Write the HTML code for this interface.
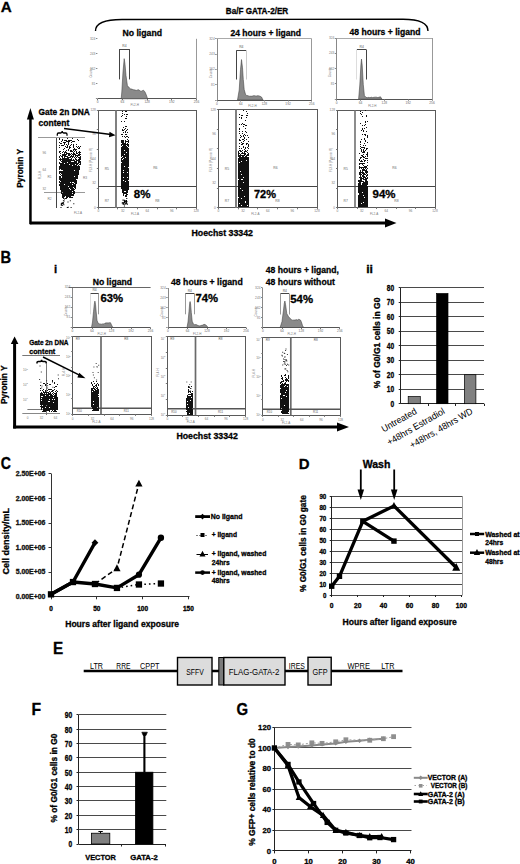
<!DOCTYPE html>
<html><head><meta charset="utf-8"><title>Figure</title>
<style>
html,body{margin:0;padding:0;background:#fff;}
body{width:520px;height:864px;overflow:hidden;}
svg{display:block;font-family:"Liberation Sans",sans-serif;}
</style></head>
<body>
<svg width="520" height="864" viewBox="0 0 520 864">
<rect width="520" height="864" fill="#fff"/>
<text x="0.8" y="11.6" font-size="15" font-weight="bold" fill="#000" stroke="#000" stroke-width="0.3" textLength="11" lengthAdjust="spacingAndGlyphs">A</text>
<text x="225.8" y="14.4" font-size="8.8" font-weight="bold" fill="#000" stroke="#000" stroke-width="0.3" textLength="62.4" lengthAdjust="spacingAndGlyphs">Ba/F GATA-2/ER</text>
<path d="M95.5,31 C95.5,24 104,19.5 122,19.5 L403,19.2 C418,19.2 428,23 428,31" fill="none" stroke="#000" stroke-width="1.4"/>
<text x="122.5" y="35.5" font-size="9.5" font-weight="bold" fill="#000" stroke="#000" stroke-width="0.3" textLength="39.5" lengthAdjust="spacingAndGlyphs">No ligand</text>
<text x="230.5" y="35.5" font-size="9.5" font-weight="bold" fill="#000" stroke="#000" stroke-width="0.3" textLength="70.5" lengthAdjust="spacingAndGlyphs">24 hours + ligand</text>
<text x="349.5" y="35.3" font-size="9.5" font-weight="bold" fill="#000" stroke="#000" stroke-width="0.3" textLength="71" lengthAdjust="spacingAndGlyphs">48 hours + ligand</text>
<line x1="97.7" y1="98.5" x2="196.5" y2="98.5" stroke="#555" stroke-width="1"/>
<line x1="196.5" y1="38.8" x2="196.5" y2="98.8" stroke="#999" stroke-width="1"/>
<line x1="95.9" y1="98.5" x2="97.4" y2="98.5" stroke="#888" stroke-width="1"/>
<line x1="95.9" y1="83.5" x2="97.4" y2="83.5" stroke="#888" stroke-width="1"/>
<text x="95.4" y="84.8" font-size="3.24" font-weight="normal" fill="#777" text-anchor="end">81</text>
<line x1="95.9" y1="68.5" x2="97.4" y2="68.5" stroke="#888" stroke-width="1"/>
<text x="95.4" y="69.8" font-size="3.24" font-weight="normal" fill="#777" text-anchor="end">162</text>
<line x1="95.9" y1="53.5" x2="97.4" y2="53.5" stroke="#888" stroke-width="1"/>
<text x="95.4" y="54.8" font-size="3.24" font-weight="normal" fill="#777" text-anchor="end">243</text>
<line x1="95.9" y1="38.5" x2="97.4" y2="38.5" stroke="#888" stroke-width="1"/>
<text x="95.4" y="39.8" font-size="3.24" font-weight="normal" fill="#777" text-anchor="end">324</text>
<text x="92.2" y="72.8" font-size="3.0" font-weight="normal" fill="#777" text-anchor="middle" transform="rotate(-90 92.2 72.8)">Counts</text>
<line x1="97.5" y1="98.8" x2="97.5" y2="100.3" stroke="#777" stroke-width="1"/>
<line x1="122.5" y1="98.8" x2="122.5" y2="100.3" stroke="#777" stroke-width="1"/>
<line x1="147.5" y1="98.8" x2="147.5" y2="100.3" stroke="#777" stroke-width="1"/>
<line x1="171.5" y1="98.8" x2="171.5" y2="100.3" stroke="#777" stroke-width="1"/>
<line x1="196.5" y1="98.8" x2="196.5" y2="100.3" stroke="#777" stroke-width="1"/>
<path d="M121.2,98.8 L121.8,92.0 L123.0,71.82 L124.2,58.65 L125.0,64.15 L126.0,75.57 L127.4,85.54 L128.45,86.87 L129.5,88.06 L130.75,89.01 L132.0,89.04 L133.0,89.77 L134.0,89.74 L135.0,90.09 L136.0,90.26 L137.0,90.49 L138.0,89.62 L139.0,90.06 L140.0,90.79 L141.0,91.45 L142.25,90.73 L143.5,90.2 L145.0,91.98 L146.3,95 L147.6,98.8 Z" fill="#8a8a8a" stroke="#3c3c3c" stroke-width="0.55"/>
<line x1="119.4" y1="49.5" x2="129.4" y2="49.5" stroke="#444" stroke-width="1"/>
<line x1="119.5" y1="49.1" x2="119.5" y2="79.4" stroke="#444" stroke-width="1"/>
<line x1="129.5" y1="49.1" x2="129.5" y2="79.4" stroke="#444" stroke-width="1"/>
<text x="124.4" y="46.9" font-size="3.36" font-weight="normal" fill="#555" text-anchor="middle">R4</text>
<text x="97.7" y="103.3" font-size="3.24" font-weight="normal" fill="#666" text-anchor="middle">0</text>
<text x="122.4" y="103.3" font-size="3.24" font-weight="normal" fill="#666" text-anchor="middle">64</text>
<text x="147.1" y="103.3" font-size="3.24" font-weight="normal" fill="#666" text-anchor="middle">128</text>
<text x="171.8" y="103.3" font-size="3.24" font-weight="normal" fill="#666" text-anchor="middle">192</text>
<text x="196.5" y="103.3" font-size="3.24" font-weight="normal" fill="#666" text-anchor="middle">256</text>
<text x="134.75" y="106.1" font-size="3.0" font-weight="normal" fill="#777" text-anchor="middle">FL2-H</text>
<line x1="217" y1="100.5" x2="311.75" y2="100.5" stroke="#555" stroke-width="1"/>
<line x1="217.5" y1="38.75" x2="217.5" y2="100" stroke="#888" stroke-width="1"/>
<line x1="311.5" y1="38.75" x2="311.5" y2="100" stroke="#999" stroke-width="1"/>
<line x1="217" y1="38.5" x2="311.75" y2="38.5" stroke="#aaa" stroke-width="1"/>
<line x1="215.2" y1="100.5" x2="216.7" y2="100.5" stroke="#888" stroke-width="1"/>
<line x1="215.2" y1="84.5" x2="216.7" y2="84.5" stroke="#888" stroke-width="1"/>
<text x="214.7" y="85.6875" font-size="3.24" font-weight="normal" fill="#777" text-anchor="end">81</text>
<line x1="215.2" y1="69.5" x2="216.7" y2="69.5" stroke="#888" stroke-width="1"/>
<text x="214.7" y="70.375" font-size="3.24" font-weight="normal" fill="#777" text-anchor="end">162</text>
<line x1="215.2" y1="54.5" x2="216.7" y2="54.5" stroke="#888" stroke-width="1"/>
<text x="214.7" y="55.0625" font-size="3.24" font-weight="normal" fill="#777" text-anchor="end">243</text>
<line x1="215.2" y1="38.5" x2="216.7" y2="38.5" stroke="#888" stroke-width="1"/>
<text x="214.7" y="39.75" font-size="3.24" font-weight="normal" fill="#777" text-anchor="end">324</text>
<text x="211.5" y="73.375" font-size="3.0" font-weight="normal" fill="#777" text-anchor="middle" transform="rotate(-90 211.5 73.375)">Counts</text>
<line x1="217.5" y1="100" x2="217.5" y2="101.5" stroke="#777" stroke-width="1"/>
<line x1="240.5" y1="100" x2="240.5" y2="101.5" stroke="#777" stroke-width="1"/>
<line x1="264.5" y1="100" x2="264.5" y2="101.5" stroke="#777" stroke-width="1"/>
<line x1="288.5" y1="100" x2="288.5" y2="101.5" stroke="#777" stroke-width="1"/>
<line x1="311.5" y1="100" x2="311.5" y2="101.5" stroke="#777" stroke-width="1"/>
<path d="M237.5,100 L239.2,90.0 L240.5,69.55 L241.5,59.56 L242.5,67.79 L243.3,79.64 L244.2,89.62 L245.5,94.31 L246.75,95.57 L248.0,95.68 L249.0,96.16 L250.0,96.29 L251.0,96.1 L252.0,96.35 L253.0,95.79 L254.0,95.71 L255.0,95.78 L256.0,96.18 L257.0,95.86 L258.0,95.68 L259.0,95.89 L260.25,96.35 L261.5,97 L263,100 Z" fill="#8a8a8a" stroke="#3c3c3c" stroke-width="0.55"/>
<line x1="236.5" y1="50.5" x2="246.2" y2="50.5" stroke="#444" stroke-width="1"/>
<line x1="236.5" y1="50.3" x2="236.5" y2="79.5" stroke="#444" stroke-width="1"/>
<line x1="246.5" y1="50.3" x2="246.5" y2="79.5" stroke="#ccc" stroke-width="1"/>
<text x="241.35" y="48.099999999999994" font-size="3.36" font-weight="normal" fill="#555" text-anchor="middle">R4</text>
<text x="217.0" y="104.5" font-size="3.24" font-weight="normal" fill="#666" text-anchor="middle">0</text>
<text x="240.6875" y="104.5" font-size="3.24" font-weight="normal" fill="#666" text-anchor="middle">64</text>
<text x="264.375" y="104.5" font-size="3.24" font-weight="normal" fill="#666" text-anchor="middle">128</text>
<text x="288.0625" y="104.5" font-size="3.24" font-weight="normal" fill="#666" text-anchor="middle">192</text>
<text x="311.75" y="104.5" font-size="3.24" font-weight="normal" fill="#666" text-anchor="middle">256</text>
<text x="252.53125" y="107.3" font-size="3.0" font-weight="normal" fill="#777" text-anchor="middle">FL2-H</text>
<line x1="336.6" y1="99.5" x2="432" y2="99.5" stroke="#555" stroke-width="1"/>
<line x1="336.5" y1="38" x2="336.5" y2="99.2" stroke="#888" stroke-width="1"/>
<line x1="432.5" y1="38" x2="432.5" y2="99.2" stroke="#999" stroke-width="1"/>
<line x1="336.6" y1="38.5" x2="432" y2="38.5" stroke="#aaa" stroke-width="1"/>
<line x1="334.8" y1="99.5" x2="336.3" y2="99.5" stroke="#888" stroke-width="1"/>
<line x1="334.8" y1="83.5" x2="336.3" y2="83.5" stroke="#888" stroke-width="1"/>
<text x="334.3" y="84.9" font-size="3.24" font-weight="normal" fill="#777" text-anchor="end">81</text>
<line x1="334.8" y1="68.5" x2="336.3" y2="68.5" stroke="#888" stroke-width="1"/>
<text x="334.3" y="69.6" font-size="3.24" font-weight="normal" fill="#777" text-anchor="end">162</text>
<line x1="334.8" y1="53.5" x2="336.3" y2="53.5" stroke="#888" stroke-width="1"/>
<text x="334.3" y="54.3" font-size="3.24" font-weight="normal" fill="#777" text-anchor="end">243</text>
<line x1="334.8" y1="38.5" x2="336.3" y2="38.5" stroke="#888" stroke-width="1"/>
<text x="334.3" y="39.0" font-size="3.24" font-weight="normal" fill="#777" text-anchor="end">324</text>
<text x="331.1" y="72.6" font-size="3.0" font-weight="normal" fill="#777" text-anchor="middle" transform="rotate(-90 331.1 72.6)">Counts</text>
<line x1="336.5" y1="99.2" x2="336.5" y2="100.7" stroke="#777" stroke-width="1"/>
<line x1="360.5" y1="99.2" x2="360.5" y2="100.7" stroke="#777" stroke-width="1"/>
<line x1="384.5" y1="99.2" x2="384.5" y2="100.7" stroke="#777" stroke-width="1"/>
<line x1="408.5" y1="99.2" x2="408.5" y2="100.7" stroke="#777" stroke-width="1"/>
<line x1="432.5" y1="99.2" x2="432.5" y2="100.7" stroke="#777" stroke-width="1"/>
<path d="M358.6,99.2 L359.8,85.0 L360.9,64.8 L361.5,59.09 L362.2,65.2 L363.3,84.74 L364.4,95.57 L366.0,97.33 L367.0,97.71 L368.0,97.6 L369.0,97.19 L370.0,97.91 L371.0,97.08 L372.0,97.42 L373.0,97.72 L374.0,97.09 L375.0,97.39 L376.0,96.91 L377.0,97.5 L378.0,97.56 L379.25,97.12 L380.5,96.8 L382,99.2 Z" fill="#8a8a8a" stroke="#3c3c3c" stroke-width="0.55"/>
<line x1="356.9" y1="49.5" x2="366.5" y2="49.5" stroke="#444" stroke-width="1"/>
<line x1="356.5" y1="49.9" x2="356.5" y2="79.5" stroke="#ddd" stroke-width="1"/>
<line x1="366.5" y1="49.9" x2="366.5" y2="79.5" stroke="#444" stroke-width="1"/>
<text x="361.7" y="47.699999999999996" font-size="3.36" font-weight="normal" fill="#555" text-anchor="middle">R4</text>
<text x="336.6" y="103.7" font-size="3.24" font-weight="normal" fill="#666" text-anchor="middle">0</text>
<text x="360.45000000000005" y="103.7" font-size="3.24" font-weight="normal" fill="#666" text-anchor="middle">64</text>
<text x="384.3" y="103.7" font-size="3.24" font-weight="normal" fill="#666" text-anchor="middle">128</text>
<text x="408.15" y="103.7" font-size="3.24" font-weight="normal" fill="#666" text-anchor="middle">192</text>
<text x="432.0" y="103.7" font-size="3.24" font-weight="normal" fill="#666" text-anchor="middle">256</text>
<text x="372.375" y="106.5" font-size="3.0" font-weight="normal" fill="#777" text-anchor="middle">FL2-H</text>
<rect x="98.5" y="110.5" width="98.0" height="97.0" fill="none" stroke="#5a5a5a" stroke-width="1"/>
<line x1="116" y1="110.4" x2="116" y2="207.8" stroke="#808080" stroke-width="2.0"/>
<line x1="98.3" y1="186.5" x2="196.2" y2="186.5" stroke="#444" stroke-width="1"/>
<line x1="96.8" y1="207.5" x2="98.3" y2="207.5" stroke="#777" stroke-width="1"/>
<line x1="96.8" y1="188.5" x2="98.3" y2="188.5" stroke="#777" stroke-width="1"/>
<line x1="96.8" y1="168.5" x2="98.3" y2="168.5" stroke="#777" stroke-width="1"/>
<line x1="96.8" y1="149.5" x2="98.3" y2="149.5" stroke="#777" stroke-width="1"/>
<line x1="96.8" y1="129.5" x2="98.3" y2="129.5" stroke="#777" stroke-width="1"/>
<line x1="96.8" y1="110.5" x2="98.3" y2="110.5" stroke="#777" stroke-width="1"/>
<line x1="98.5" y1="207.8" x2="98.5" y2="209.3" stroke="#777" stroke-width="1"/>
<line x1="117.5" y1="207.8" x2="117.5" y2="209.3" stroke="#777" stroke-width="1"/>
<line x1="137.5" y1="207.8" x2="137.5" y2="209.3" stroke="#777" stroke-width="1"/>
<line x1="157.5" y1="207.8" x2="157.5" y2="209.3" stroke="#777" stroke-width="1"/>
<line x1="176.5" y1="207.8" x2="176.5" y2="209.3" stroke="#777" stroke-width="1"/>
<line x1="196.5" y1="207.8" x2="196.5" y2="209.3" stroke="#777" stroke-width="1"/>
<rect x="218.5" y="109.5" width="99.0" height="98.0" fill="none" stroke="#5a5a5a" stroke-width="1"/>
<line x1="236" y1="109.7" x2="236" y2="207.8" stroke="#808080" stroke-width="2.0"/>
<line x1="218.4" y1="186.5" x2="317" y2="186.5" stroke="#444" stroke-width="1"/>
<line x1="216.9" y1="207.5" x2="218.4" y2="207.5" stroke="#777" stroke-width="1"/>
<line x1="216.9" y1="188.5" x2="218.4" y2="188.5" stroke="#777" stroke-width="1"/>
<line x1="216.9" y1="168.5" x2="218.4" y2="168.5" stroke="#777" stroke-width="1"/>
<line x1="216.9" y1="148.5" x2="218.4" y2="148.5" stroke="#777" stroke-width="1"/>
<line x1="216.9" y1="129.5" x2="218.4" y2="129.5" stroke="#777" stroke-width="1"/>
<line x1="216.9" y1="109.5" x2="218.4" y2="109.5" stroke="#777" stroke-width="1"/>
<line x1="218.5" y1="207.8" x2="218.5" y2="209.3" stroke="#777" stroke-width="1"/>
<line x1="238.5" y1="207.8" x2="238.5" y2="209.3" stroke="#777" stroke-width="1"/>
<line x1="257.5" y1="207.8" x2="257.5" y2="209.3" stroke="#777" stroke-width="1"/>
<line x1="277.5" y1="207.8" x2="277.5" y2="209.3" stroke="#777" stroke-width="1"/>
<line x1="297.5" y1="207.8" x2="297.5" y2="209.3" stroke="#777" stroke-width="1"/>
<line x1="317.5" y1="207.8" x2="317.5" y2="209.3" stroke="#777" stroke-width="1"/>
<rect x="337.5" y="110.5" width="98.0" height="97.0" fill="none" stroke="#5a5a5a" stroke-width="1"/>
<line x1="355" y1="110.5" x2="355" y2="207.5" stroke="#808080" stroke-width="1.8"/>
<line x1="337.5" y1="186.5" x2="435" y2="186.5" stroke="#444" stroke-width="1"/>
<line x1="336.0" y1="207.5" x2="337.5" y2="207.5" stroke="#777" stroke-width="1"/>
<line x1="336.0" y1="188.5" x2="337.5" y2="188.5" stroke="#777" stroke-width="1"/>
<line x1="336.0" y1="168.5" x2="337.5" y2="168.5" stroke="#777" stroke-width="1"/>
<line x1="336.0" y1="149.5" x2="337.5" y2="149.5" stroke="#777" stroke-width="1"/>
<line x1="336.0" y1="129.5" x2="337.5" y2="129.5" stroke="#777" stroke-width="1"/>
<line x1="336.0" y1="110.5" x2="337.5" y2="110.5" stroke="#777" stroke-width="1"/>
<line x1="337.5" y1="207.5" x2="337.5" y2="209.0" stroke="#777" stroke-width="1"/>
<line x1="357.5" y1="207.5" x2="357.5" y2="209.0" stroke="#777" stroke-width="1"/>
<line x1="376.5" y1="207.5" x2="376.5" y2="209.0" stroke="#777" stroke-width="1"/>
<line x1="396.5" y1="207.5" x2="396.5" y2="209.0" stroke="#777" stroke-width="1"/>
<line x1="415.5" y1="207.5" x2="415.5" y2="209.0" stroke="#777" stroke-width="1"/>
<line x1="435.5" y1="207.5" x2="435.5" y2="209.0" stroke="#777" stroke-width="1"/>
<path d="M122,111h1v1h-1zM125,111h2v1h-2zM122,113h1v1h-1zM124,114h1v1h-1zM126,114h2v1h-2zM122,115h1v1h-1zM121,116h1v1h-1zM126,116h1v1h-1zM125,118h2v1h-2zM121,121h1v1h-1zM124,121h1v1h-1zM125,126h2v1h-2zM123,127h1v1h-1zM125,128h1v1h-1zM122,129h1v1h-1zM124,129h1v1h-1zM127,129h1v1h-1zM122,130h2v1h-2zM126,130h1v1h-1zM125,131h1v1h-1zM123,132h1v1h-1zM125,132h1v1h-1zM127,132h1v1h-1zM121,134h2v1h-2zM125,134h2v1h-2zM122,136h1v1h-1zM124,136h1v1h-1zM126,136h2v1h-2zM125,137h1v1h-1zM128,137h1v1h-1zM127,139h1v1h-1zM121,140h3v1h-3zM125,140h1v1h-1zM128,140h1v1h-1zM121,141h3v1h-3zM125,141h4v1h-4zM121,142h3v1h-3zM125,142h1v1h-1zM128,142h1v1h-1zM122,143h4v1h-4zM127,143h1v1h-1zM121,144h8v1h-8zM121,145h1v1h-1zM123,145h3v1h-3zM127,145h2v1h-2zM122,146h5v1h-5zM128,146h1v1h-1zM121,147h7v1h-7zM121,148h8v1h-8zM121,149h8v1h-8zM121,150h3v1h-3zM125,150h4v1h-4zM121,151h8v1h-8zM121,152h5v1h-5zM127,152h2v1h-2zM121,153h8v1h-8zM121,154h3v1h-3zM125,154h4v1h-4zM121,155h8v1h-8zM121,156h1v1h-1zM123,156h6v1h-6zM122,157h3v1h-3zM126,157h3v1h-3zM121,158h2v1h-2zM124,158h5v1h-5zM121,159h1v1h-1zM123,159h6v1h-6zM121,160h8v1h-8zM121,161h8v1h-8zM122,162h7v1h-7zM121,163h8v1h-8zM121,164h8v1h-8zM121,165h8v1h-8zM121,166h3v1h-3zM125,166h4v1h-4zM121,167h7v1h-7zM121,168h8v1h-8zM121,169h8v1h-8zM121,170h2v1h-2zM124,170h5v1h-5zM121,171h8v1h-8zM121,172h2v1h-2zM124,172h3v1h-3zM128,172h1v1h-1zM121,173h8v1h-8zM121,174h8v1h-8zM121,175h8v1h-8zM121,176h8v1h-8zM121,177h2v1h-2zM124,177h3v1h-3zM128,177h1v1h-1zM121,178h8v1h-8zM121,179h8v1h-8zM121,180h2v1h-2zM124,180h4v1h-4zM121,181h4v1h-4zM126,181h3v1h-3zM121,182h8v1h-8zM121,183h8v1h-8zM121,184h8v1h-8zM121,185h8v1h-8zM121,186h8v1h-8zM121,187h8v1h-8zM121,188h8v1h-8zM122,189h7v1h-7zM122,190h6v1h-6zM122,191h2v1h-2zM126,191h2v1h-2zM122,192h6v1h-6zM123,193h4v1h-4zM123,194h1v1h-1zM126,194h2v1h-2zM123,195h1v1h-1zM125,195h2v1h-2zM125,196h2v1h-2z" fill="#111"/>
<path d="M122.4,201.9h1.1v1.1h-1.1zM122.5,202.7h1.1v1.1h-1.1zM125.5,200.1h1.1v1.1h-1.1zM126.8,203.6h1.1v1.1h-1.1zM123.6,203.6h1.1v1.1h-1.1zM125.9,200.1h1.1v1.1h-1.1zM123.9,201.1h1.1v1.1h-1.1zM125.0,203.2h1.1v1.1h-1.1zM122.6,203.6h1.1v1.1h-1.1zM121.7,202.4h1.1v1.1h-1.1zM125.9,202.4h1.1v1.1h-1.1zM124.3,201.2h1.1v1.1h-1.1zM124.0,201.5h1.1v1.1h-1.1zM124.8,203.4h1.1v1.1h-1.1zM125.6,202.4h1.1v1.1h-1.1zM123.9,200.4h1.1v1.1h-1.1zM125.6,201.7h1.1v1.1h-1.1zM122.8,202.3h1.1v1.1h-1.1zM126.3,201.1h1.1v1.1h-1.1zM125.4,200.9h1.1v1.1h-1.1zM125.2,200.6h1.1v1.1h-1.1zM124.0,201.4h1.1v1.1h-1.1zM125.5,203.1h1.1v1.1h-1.1zM123.9,205.4h1.1v1.1h-1.1zM126.2,197.9h1.1v1.1h-1.1zM122.5,199.6h1.1v1.1h-1.1zM124.1,201.8h1.1v1.1h-1.1zM123.8,199.7h1.1v1.1h-1.1z" fill="#000"/>
<path d="M243,110h1v1h-1zM246,111h1v1h-1zM247,113h1v1h-1zM239,114h1v1h-1zM241,115h2v1h-2zM246,115h2v1h-2zM239,117h1v1h-1zM241,117h1v1h-1zM246,117h1v1h-1zM241,118h1v1h-1zM245,120h1v1h-1zM242,123h1v1h-1zM239,124h1v1h-1zM241,124h1v1h-1zM243,124h2v1h-2zM245,125h2v1h-2zM243,126h1v1h-1zM239,128h1v1h-1zM245,128h1v1h-1zM239,129h1v1h-1zM239,131h1v1h-1zM242,131h1v1h-1zM245,131h1v1h-1zM246,132h1v1h-1zM239,133h1v1h-1zM242,133h1v1h-1zM244,134h1v1h-1zM240,135h1v1h-1zM243,135h1v1h-1zM245,135h1v1h-1zM247,135h1v1h-1zM241,136h1v1h-1zM243,136h1v1h-1zM240,137h1v1h-1zM244,137h1v1h-1zM248,137h1v1h-1zM244,138h1v1h-1zM239,139h1v1h-1zM242,139h2v1h-2zM246,139h1v1h-1zM239,140h2v1h-2zM244,140h1v1h-1zM243,141h1v1h-1zM248,141h1v1h-1zM241,142h1v1h-1zM239,143h1v1h-1zM242,143h2v1h-2zM246,143h2v1h-2zM241,144h2v1h-2zM246,144h1v1h-1zM248,144h1v1h-1zM248,145h1v1h-1zM239,146h1v1h-1zM243,146h1v1h-1zM248,146h1v1h-1zM243,147h1v1h-1zM245,147h1v1h-1zM247,147h1v1h-1zM239,148h1v1h-1zM241,148h1v1h-1zM245,148h1v1h-1zM248,148h1v1h-1zM244,149h1v1h-1zM239,150h2v1h-2zM242,150h1v1h-1zM245,150h1v1h-1zM247,150h1v1h-1zM238,151h1v1h-1zM240,151h2v1h-2zM244,151h3v1h-3zM238,152h1v1h-1zM242,152h1v1h-1zM244,152h1v1h-1zM247,152h1v1h-1zM238,153h2v1h-2zM241,153h5v1h-5zM248,153h1v1h-1zM238,154h1v1h-1zM240,154h1v1h-1zM244,154h2v1h-2zM247,154h2v1h-2zM238,155h7v1h-7zM246,155h3v1h-3zM238,156h3v1h-3zM242,156h2v1h-2zM245,156h2v1h-2zM239,157h10v1h-10zM238,158h11v1h-11zM238,159h11v1h-11zM238,160h8v1h-8zM247,160h2v1h-2zM238,161h3v1h-3zM242,161h7v1h-7zM238,162h1v1h-1zM240,162h9v1h-9zM238,163h11v1h-11zM238,164h11v1h-11zM238,165h11v1h-11zM238,166h11v1h-11zM238,167h11v1h-11zM238,168h11v1h-11zM238,169h11v1h-11zM238,170h11v1h-11zM238,171h2v1h-2zM241,171h8v1h-8zM238,172h11v1h-11zM238,173h11v1h-11zM238,174h3v1h-3zM242,174h7v1h-7zM238,175h11v1h-11zM238,176h11v1h-11zM238,177h5v1h-5zM244,177h5v1h-5zM238,178h11v1h-11zM239,179h2v1h-2zM243,179h6v1h-6zM238,180h11v1h-11zM238,181h11v1h-11zM238,182h5v1h-5zM244,182h5v1h-5zM238,183h11v1h-11zM238,184h11v1h-11zM238,185h11v1h-11zM238,186h11v1h-11zM238,187h11v1h-11zM238,188h2v1h-2zM241,188h8v1h-8zM238,189h11v1h-11zM238,190h4v1h-4zM243,190h6v1h-6zM238,191h11v1h-11zM238,192h11v1h-11zM238,193h11v1h-11zM238,194h11v1h-11zM238,195h11v1h-11zM238,196h6v1h-6zM245,196h4v1h-4zM239,197h10v1h-10zM238,198h3v1h-3zM242,198h7v1h-7zM238,199h11v1h-11zM238,200h11v1h-11zM238,201h7v1h-7zM246,201h3v1h-3zM238,202h7v1h-7zM246,202h3v1h-3zM238,203h1v1h-1zM240,203h9v1h-9zM238,204h11v1h-11zM238,205h3v1h-3zM242,205h5v1h-5zM248,205h1v1h-1zM238,206h11v1h-11z" fill="#111"/>
<path d="M365,110h1v1h-1zM360,111h1v1h-1zM362,112h1v1h-1zM360,113h1v1h-1zM361,114h1v1h-1zM366,115h1v1h-1zM362,116h1v1h-1zM366,116h1v1h-1zM365,121h1v1h-1zM367,121h1v1h-1zM365,122h1v1h-1zM360,123h1v1h-1zM365,124h1v1h-1zM362,125h1v1h-1zM364,125h1v1h-1zM366,127h1v1h-1zM362,128h1v1h-1zM364,128h1v1h-1zM362,129h1v1h-1zM361,130h1v1h-1zM363,130h1v1h-1zM363,131h1v1h-1zM366,131h1v1h-1zM362,134h1v1h-1zM364,134h2v1h-2zM365,135h1v1h-1zM367,135h1v1h-1zM367,136h1v1h-1zM367,137h1v1h-1zM364,138h1v1h-1zM361,139h1v1h-1zM364,139h1v1h-1zM365,140h1v1h-1zM360,141h1v1h-1zM365,141h1v1h-1zM360,142h1v1h-1zM367,142h1v1h-1zM364,143h1v1h-1zM360,144h1v1h-1zM363,145h1v1h-1zM365,145h1v1h-1zM360,146h1v1h-1zM361,147h4v1h-4zM360,148h1v1h-1zM364,148h1v1h-1zM366,148h2v1h-2zM361,149h1v1h-1zM363,149h1v1h-1zM366,149h1v1h-1zM361,150h1v1h-1zM363,150h1v1h-1zM365,150h1v1h-1zM361,151h1v1h-1zM363,151h2v1h-2zM362,152h3v1h-3zM367,152h1v1h-1zM359,153h1v1h-1zM367,153h1v1h-1zM363,154h1v1h-1zM366,154h2v1h-2zM361,155h2v1h-2zM367,155h1v1h-1zM362,156h2v1h-2zM365,156h1v1h-1zM367,156h1v1h-1zM360,157h2v1h-2zM363,157h2v1h-2zM360,158h1v1h-1zM365,158h3v1h-3zM359,159h1v1h-1zM363,159h1v1h-1zM359,160h1v1h-1zM361,160h1v1h-1zM364,160h2v1h-2zM367,160h1v1h-1zM360,161h3v1h-3zM364,161h1v1h-1zM367,162h1v1h-1zM359,163h6v1h-6zM359,164h1v1h-1zM362,164h1v1h-1zM363,165h1v1h-1zM367,165h1v1h-1zM359,166h1v1h-1zM364,166h3v1h-3zM359,167h8v1h-8zM359,168h1v1h-1zM361,168h1v1h-1zM363,168h1v1h-1zM365,168h1v1h-1zM367,168h1v1h-1zM362,169h3v1h-3zM366,169h1v1h-1zM360,170h1v1h-1zM362,170h5v1h-5zM360,171h1v1h-1zM362,171h1v1h-1zM365,171h3v1h-3zM359,172h5v1h-5zM365,172h3v1h-3zM359,173h2v1h-2zM362,173h3v1h-3zM366,173h1v1h-1zM359,174h3v1h-3zM363,174h3v1h-3zM367,174h1v1h-1zM360,175h1v1h-1zM362,175h2v1h-2zM366,175h2v1h-2zM360,176h1v1h-1zM362,176h3v1h-3zM366,176h1v1h-1zM359,177h3v1h-3zM363,177h3v1h-3zM367,177h1v1h-1zM360,178h4v1h-4zM365,178h3v1h-3zM360,179h2v1h-2zM363,179h4v1h-4zM358,180h4v1h-4zM365,180h2v1h-2zM358,181h6v1h-6zM365,181h3v1h-3zM359,182h2v1h-2zM363,182h5v1h-5zM358,183h3v1h-3zM362,183h6v1h-6zM358,184h3v1h-3zM362,184h6v1h-6zM358,185h9v1h-9zM358,186h10v1h-10zM358,187h10v1h-10zM358,188h10v1h-10zM358,189h10v1h-10zM358,190h10v1h-10zM358,191h10v1h-10zM358,192h4v1h-4zM363,192h5v1h-5zM359,193h9v1h-9zM359,194h9v1h-9zM358,195h5v1h-5zM364,195h4v1h-4zM358,196h10v1h-10zM358,197h6v1h-6zM365,197h3v1h-3zM358,198h10v1h-10zM358,199h10v1h-10zM358,200h10v1h-10zM358,201h10v1h-10zM358,202h5v1h-5zM364,202h4v1h-4zM358,203h3v1h-3zM362,203h6v1h-6zM358,204h10v1h-10zM358,205h10v1h-10zM358,206h10v1h-10z" fill="#111"/>
<text x="106.85" y="169.8" font-size="3.36" font-weight="normal" fill="#666" text-anchor="middle">R5</text>
<text x="155.3" y="169" font-size="3.36" font-weight="normal" fill="#666" text-anchor="middle">R6</text>
<text x="106.85" y="202" font-size="3.36" font-weight="normal" fill="#666" text-anchor="middle">R7</text>
<text x="157.3" y="202" font-size="3.36" font-weight="normal" fill="#666" text-anchor="middle">R8</text>
<text x="95.8" y="208.8" font-size="3.24" font-weight="normal" fill="#777" text-anchor="end">0</text>
<text x="98.3" y="212.4" font-size="3.24" font-weight="normal" fill="#777" text-anchor="middle">0</text>
<text x="95.8" y="184.35000000000002" font-size="3.24" font-weight="normal" fill="#777" text-anchor="end">32</text>
<text x="122.77499999999999" y="212.4" font-size="3.24" font-weight="normal" fill="#777" text-anchor="middle">32</text>
<text x="95.8" y="159.9" font-size="3.24" font-weight="normal" fill="#777" text-anchor="end">64</text>
<text x="147.25" y="212.4" font-size="3.24" font-weight="normal" fill="#777" text-anchor="middle">64</text>
<text x="95.8" y="135.45" font-size="3.24" font-weight="normal" fill="#777" text-anchor="end">96</text>
<text x="171.725" y="212.4" font-size="3.24" font-weight="normal" fill="#777" text-anchor="middle">96</text>
<text x="95.8" y="111.0" font-size="3.24" font-weight="normal" fill="#777" text-anchor="end">128</text>
<text x="196.2" y="212.4" font-size="3.24" font-weight="normal" fill="#777" text-anchor="middle">128</text>
<text x="135.0125" y="215.3" font-size="3.0" font-weight="normal" fill="#777" text-anchor="middle">FL2-A</text>
<text x="92.3" y="160" font-size="3.0" font-weight="normal" fill="#777" text-anchor="middle" transform="rotate(-90 92.3 160)">FL3-H (Pyronin Y)</text>
<text x="226.95" y="169.8" font-size="3.36" font-weight="normal" fill="#666" text-anchor="middle">R5</text>
<text x="275.4" y="169" font-size="3.36" font-weight="normal" fill="#666" text-anchor="middle">R6</text>
<text x="226.95" y="202" font-size="3.36" font-weight="normal" fill="#666" text-anchor="middle">R7</text>
<text x="277.4" y="202" font-size="3.36" font-weight="normal" fill="#666" text-anchor="middle">R8</text>
<text x="215.9" y="208.8" font-size="3.24" font-weight="normal" fill="#777" text-anchor="end">0</text>
<text x="218.4" y="212.4" font-size="3.24" font-weight="normal" fill="#777" text-anchor="middle">0</text>
<text x="215.9" y="184.35000000000002" font-size="3.24" font-weight="normal" fill="#777" text-anchor="end">32</text>
<text x="243.05" y="212.4" font-size="3.24" font-weight="normal" fill="#777" text-anchor="middle">32</text>
<text x="215.9" y="159.9" font-size="3.24" font-weight="normal" fill="#777" text-anchor="end">64</text>
<text x="267.7" y="212.4" font-size="3.24" font-weight="normal" fill="#777" text-anchor="middle">64</text>
<text x="215.9" y="135.45" font-size="3.24" font-weight="normal" fill="#777" text-anchor="end">96</text>
<text x="292.35" y="212.4" font-size="3.24" font-weight="normal" fill="#777" text-anchor="middle">96</text>
<text x="215.9" y="111.0" font-size="3.24" font-weight="normal" fill="#777" text-anchor="end">128</text>
<text x="317.0" y="212.4" font-size="3.24" font-weight="normal" fill="#777" text-anchor="middle">128</text>
<text x="255.375" y="215.3" font-size="3.0" font-weight="normal" fill="#777" text-anchor="middle">FL2-A</text>
<text x="212.4" y="160" font-size="3.0" font-weight="normal" fill="#777" text-anchor="middle" transform="rotate(-90 212.4 160)">FL3-H (Pyronin Y)</text>
<text x="345.75" y="169.8" font-size="3.36" font-weight="normal" fill="#666" text-anchor="middle">R5</text>
<text x="394.5" y="169" font-size="3.36" font-weight="normal" fill="#666" text-anchor="middle">R6</text>
<text x="345.75" y="202" font-size="3.36" font-weight="normal" fill="#666" text-anchor="middle">R7</text>
<text x="396.5" y="202" font-size="3.36" font-weight="normal" fill="#666" text-anchor="middle">R8</text>
<text x="335.0" y="208.5" font-size="3.24" font-weight="normal" fill="#777" text-anchor="end">0</text>
<text x="337.5" y="212.1" font-size="3.24" font-weight="normal" fill="#777" text-anchor="middle">0</text>
<text x="335.0" y="184.125" font-size="3.24" font-weight="normal" fill="#777" text-anchor="end">32</text>
<text x="361.875" y="212.1" font-size="3.24" font-weight="normal" fill="#777" text-anchor="middle">32</text>
<text x="335.0" y="159.75" font-size="3.24" font-weight="normal" fill="#777" text-anchor="end">64</text>
<text x="386.25" y="212.1" font-size="3.24" font-weight="normal" fill="#777" text-anchor="middle">64</text>
<text x="335.0" y="135.375" font-size="3.24" font-weight="normal" fill="#777" text-anchor="end">96</text>
<text x="410.625" y="212.1" font-size="3.24" font-weight="normal" fill="#777" text-anchor="middle">96</text>
<text x="335.0" y="111.0" font-size="3.24" font-weight="normal" fill="#777" text-anchor="end">128</text>
<text x="435.0" y="212.1" font-size="3.24" font-weight="normal" fill="#777" text-anchor="middle">128</text>
<text x="374.0625" y="215.0" font-size="3.0" font-weight="normal" fill="#777" text-anchor="middle">FL2-A</text>
<text x="331.5" y="160" font-size="3.0" font-weight="normal" fill="#777" text-anchor="middle" transform="rotate(-90 331.5 160)">FL3-H (Pyronin Y)</text>
<text x="133.8" y="198.3" font-size="11" font-weight="bold" fill="#000" stroke="#000" stroke-width="0.3" textLength="16.7" lengthAdjust="spacingAndGlyphs">8%</text>
<text x="254" y="198.3" font-size="11" font-weight="bold" fill="#000" stroke="#000" stroke-width="0.3" textLength="22" lengthAdjust="spacingAndGlyphs">72%</text>
<text x="372.5" y="198.3" font-size="11" font-weight="bold" fill="#000" stroke="#000" stroke-width="0.3" textLength="23" lengthAdjust="spacingAndGlyphs">94%</text>
<line x1="38" y1="137.5" x2="85" y2="137.5" stroke="#999" stroke-width="1"/>
<line x1="44" y1="192.5" x2="85" y2="192.5" stroke="#999" stroke-width="1"/>
<line x1="56.5" y1="138" x2="56.5" y2="208" stroke="#444" stroke-width="1"/>
<text x="46" y="154" font-size="3.24" font-weight="normal" fill="#777" text-anchor="end">96</text>
<text x="46" y="171" font-size="3.24" font-weight="normal" fill="#777" text-anchor="end">64</text>
<text x="46" y="190" font-size="3.24" font-weight="normal" fill="#777" text-anchor="end">32</text>
<text x="41" y="175" font-size="3.12" font-weight="normal" fill="#777" text-anchor="middle" transform="rotate(-90 41 175)">FL3-H</text>
<text x="49.5" y="177.5" font-size="3.24" font-weight="normal" fill="#777" text-anchor="middle">R1</text>
<text x="49.5" y="200" font-size="3.24" font-weight="normal" fill="#777" text-anchor="middle">R2</text>
<text x="85" y="179" font-size="3.24" font-weight="normal" fill="#777" text-anchor="middle">R3</text>
<text x="78" y="214" font-size="3.0" font-weight="normal" fill="#777" text-anchor="middle">FL2-A</text>
<path d="M59,138h1v1h-1zM67,138h1v1h-1zM72,138h1v1h-1zM59,139h1v1h-1zM62,139h1v1h-1zM77,139h1v1h-1zM62,140h1v1h-1zM64,140h3v1h-3zM68,140h4v1h-4zM78,140h1v1h-1zM61,141h1v1h-1zM66,141h4v1h-4zM72,141h3v1h-3zM59,142h1v1h-1zM63,142h3v1h-3zM68,142h1v1h-1zM71,142h1v1h-1zM60,143h2v1h-2zM64,143h1v1h-1zM68,143h1v1h-1zM64,144h1v1h-1zM66,144h1v1h-1zM68,144h1v1h-1zM71,144h1v1h-1zM73,144h1v1h-1zM76,144h1v1h-1zM59,145h1v1h-1zM61,145h3v1h-3zM67,145h1v1h-1zM70,145h1v1h-1zM73,145h1v1h-1zM65,146h1v1h-1zM67,146h1v1h-1zM69,146h1v1h-1zM73,146h1v1h-1zM76,146h1v1h-1zM78,146h1v1h-1zM80,146h1v1h-1zM59,147h1v1h-1zM66,147h2v1h-2zM69,147h2v1h-2zM73,147h1v1h-1zM77,147h1v1h-1zM79,147h1v1h-1zM64,148h1v1h-1zM69,148h1v1h-1zM74,148h1v1h-1zM78,148h2v1h-2zM63,149h1v1h-1zM68,149h1v1h-1zM73,149h4v1h-4zM66,150h1v1h-1zM68,150h1v1h-1zM70,150h2v1h-2zM73,150h1v1h-1zM75,150h1v1h-1zM59,151h2v1h-2zM63,151h1v1h-1zM65,151h1v1h-1zM70,151h3v1h-3zM74,151h1v1h-1zM76,151h1v1h-1zM79,151h1v1h-1zM59,152h1v1h-1zM62,152h1v1h-1zM64,152h3v1h-3zM73,152h1v1h-1zM76,152h1v1h-1zM78,152h3v1h-3zM60,153h1v1h-1zM64,153h1v1h-1zM66,153h4v1h-4zM71,153h1v1h-1zM73,153h2v1h-2zM76,153h2v1h-2zM79,153h1v1h-1zM62,154h5v1h-5zM68,154h3v1h-3zM72,154h4v1h-4zM78,154h3v1h-3zM60,155h1v1h-1zM62,155h4v1h-4zM68,155h2v1h-2zM71,155h1v1h-1zM73,155h1v1h-1zM75,155h5v1h-5zM59,156h1v1h-1zM61,156h2v1h-2zM64,156h4v1h-4zM70,156h4v1h-4zM75,156h1v1h-1zM77,156h1v1h-1zM80,156h1v1h-1zM59,157h1v1h-1zM62,157h1v1h-1zM64,157h1v1h-1zM67,157h4v1h-4zM72,157h1v1h-1zM74,157h1v1h-1zM76,157h1v1h-1zM78,157h3v1h-3zM60,158h1v1h-1zM62,158h7v1h-7zM71,158h1v1h-1zM75,158h1v1h-1zM79,158h2v1h-2zM59,159h13v1h-13zM73,159h1v1h-1zM75,159h2v1h-2zM78,159h3v1h-3zM60,160h1v1h-1zM62,160h13v1h-13zM76,160h4v1h-4zM61,161h10v1h-10zM74,161h3v1h-3zM78,161h3v1h-3zM59,162h1v1h-1zM62,162h5v1h-5zM68,162h9v1h-9zM78,162h3v1h-3zM59,163h5v1h-5zM65,163h14v1h-14zM80,163h1v1h-1zM60,164h9v1h-9zM70,164h5v1h-5zM76,164h2v1h-2zM79,164h2v1h-2zM60,165h12v1h-12zM73,165h4v1h-4zM78,165h1v1h-1zM59,166h21v1h-21zM59,167h21v1h-21zM59,168h21v1h-21zM59,169h1v1h-1zM61,169h19v1h-19zM63,170h11v1h-11zM75,170h4v1h-4zM59,171h20v1h-20zM59,172h20v1h-20zM59,173h1v1h-1zM61,173h18v1h-18zM60,174h1v1h-1zM62,174h17v1h-17zM61,175h17v1h-17zM59,176h2v1h-2zM62,176h12v1h-12zM75,176h3v1h-3zM59,177h2v1h-2zM62,177h16v1h-16zM59,178h19v1h-19zM59,179h17v1h-17zM60,180h17v1h-17zM59,181h1v1h-1zM61,181h16v1h-16zM59,182h11v1h-11zM71,182h1v1h-1zM74,182h3v1h-3zM60,183h14v1h-14zM75,183h2v1h-2zM59,184h5v1h-5zM65,184h7v1h-7zM73,184h3v1h-3zM59,185h17v1h-17zM60,186h8v1h-8zM69,186h7v1h-7zM60,187h13v1h-13zM74,187h2v1h-2zM60,188h9v1h-9zM70,188h4v1h-4zM75,188h1v1h-1zM60,189h10v1h-10zM71,189h4v1h-4zM61,190h13v1h-13zM61,191h11v1h-11zM73,191h2v1h-2zM61,192h1v1h-1zM63,192h12v1h-12zM61,193h11v1h-11zM73,193h2v1h-2zM62,194h12v1h-12zM62,195h12v1h-12zM62,196h3v1h-3zM66,196h5v1h-5zM62,197h2v1h-2zM66,197h2v1h-2zM69,197h4v1h-4zM63,198h1v1h-1zM65,198h2v1h-2z" fill="#111"/>
<path d="M67.5,201.6h1.0v1.0h-1.0zM60.5,207.0h1.0v1.0h-1.0zM69.8,200.2h1.0v1.0h-1.0zM73.3,203.3h1.0v1.0h-1.0zM64.0,198.5h1.0v1.0h-1.0zM67.8,206.8h1.0v1.0h-1.0zM62.9,200.3h1.0v1.0h-1.0zM66.8,207.0h1.0v1.0h-1.0zM70.6,207.1h1.0v1.0h-1.0zM63.7,200.6h1.0v1.0h-1.0zM60.9,203.7h1.0v1.0h-1.0zM60.7,204.4h1.0v1.0h-1.0zM61.8,202.6h1.0v1.0h-1.0zM61.4,202.9h1.0v1.0h-1.0zM62.4,202.6h1.0v1.0h-1.0zM61.6,203.0h1.0v1.0h-1.0zM60.8,203.3h1.0v1.0h-1.0zM62.7,202.1h1.0v1.0h-1.0zM62.6,203.4h1.0v1.0h-1.0zM61.3,204.7h1.0v1.0h-1.0zM63.4,204.3h1.0v1.0h-1.0zM61.8,205.0h1.0v1.0h-1.0zM63.1,202.4h1.0v1.0h-1.0zM61.2,202.8h1.0v1.0h-1.0z" fill="#000"/>
<path d="M57.3,135.8 L57.3,134.2 Q57.3,133 58.5,133 L60.8,133 Q61.9,133 62.2,131.2 Q62.5,133 63.6,133 L65.8,133 Q67,133 67,134.2 L67,135.8" fill="none" stroke="#000" stroke-width="1.3"/>
<text x="38.6" y="114.6" font-size="9.2" font-weight="bold" fill="#000" stroke="#000" stroke-width="0.3" textLength="51.2" lengthAdjust="spacingAndGlyphs">Gate 2n DNA</text>
<text x="38.6" y="125.8" font-size="9.2" font-weight="bold" fill="#000" stroke="#000" stroke-width="0.3" textLength="30.8" lengthAdjust="spacingAndGlyphs">content</text>
<line x1="64" y1="128.6" x2="111" y2="134.6" stroke="#000" stroke-width="1.5"/>
<path d="M115.5,135.2 L109.5,131.8 L109,137.2 Z" fill="#000" stroke="none" stroke-width="1"/>
<line x1="30.45" y1="118" x2="30.45" y2="224.2" stroke="#000" stroke-width="2.5"/>
<path d="M30.4,107.9 L26.9,119.6 L33.9,119.6 Z" fill="#000" stroke="none" stroke-width="1"/>
<line x1="30" y1="223" x2="388" y2="223" stroke="#000" stroke-width="3"/>
<path d="M396.5,223 L385,218.5 L385,227.5 Z" fill="#000" stroke="none" stroke-width="1"/>
<text x="23.1" y="168.4" font-size="9.4" font-weight="bold" fill="#000" stroke="#000" stroke-width="0.3" text-anchor="middle" textLength="38.8" lengthAdjust="spacingAndGlyphs" transform="rotate(-90 23.1 168.4)">Pyronin Y</text>
<text x="191.5" y="235.8" font-size="9" font-weight="bold" fill="#000" stroke="#000" stroke-width="0.3" textLength="61.5" lengthAdjust="spacingAndGlyphs">Hoechst 33342</text>
<text x="0.6" y="262.8" font-size="15.6" font-weight="bold" fill="#000" stroke="#000" stroke-width="0.3" textLength="10.6" lengthAdjust="spacingAndGlyphs">B</text>
<text x="53.9" y="272.9" font-size="11.5" font-weight="bold" fill="#000" stroke="#000" stroke-width="0.3">i</text>
<text x="366.2" y="273.2" font-size="11" font-weight="bold" fill="#000" stroke="#000" stroke-width="0.3" textLength="6.8" lengthAdjust="spacingAndGlyphs">ii</text>
<text x="92.7" y="285" font-size="9.5" font-weight="bold" fill="#000" stroke="#000" stroke-width="0.3" textLength="39.3" lengthAdjust="spacingAndGlyphs">No ligand</text>
<text x="171" y="284.8" font-size="9.5" font-weight="bold" fill="#000" stroke="#000" stroke-width="0.3" textLength="71.7" lengthAdjust="spacingAndGlyphs">48 hours + ligand</text>
<text x="265.8" y="273" font-size="9.5" font-weight="bold" fill="#000" stroke="#000" stroke-width="0.3" textLength="73.2" lengthAdjust="spacingAndGlyphs">48 hours + ligand,</text>
<text x="265.8" y="284.6" font-size="9.5" font-weight="bold" fill="#000" stroke="#000" stroke-width="0.3" textLength="69" lengthAdjust="spacingAndGlyphs">48 hours without</text>
<line x1="72.5" y1="327.5" x2="150.5" y2="327.5" stroke="#555" stroke-width="1"/>
<line x1="72.5" y1="287" x2="72.5" y2="327.5" stroke="#888" stroke-width="1"/>
<line x1="70.7" y1="327.5" x2="72.2" y2="327.5" stroke="#888" stroke-width="1"/>
<line x1="70.7" y1="317.5" x2="72.2" y2="317.5" stroke="#888" stroke-width="1"/>
<text x="70.2" y="318.375" font-size="3.24" font-weight="normal" fill="#777" text-anchor="end">81</text>
<line x1="70.7" y1="307.5" x2="72.2" y2="307.5" stroke="#888" stroke-width="1"/>
<text x="70.2" y="308.25" font-size="3.24" font-weight="normal" fill="#777" text-anchor="end">162</text>
<line x1="70.7" y1="297.5" x2="72.2" y2="297.5" stroke="#888" stroke-width="1"/>
<text x="70.2" y="298.125" font-size="3.24" font-weight="normal" fill="#777" text-anchor="end">243</text>
<line x1="70.7" y1="287.5" x2="72.2" y2="287.5" stroke="#888" stroke-width="1"/>
<text x="70.2" y="288.0" font-size="3.24" font-weight="normal" fill="#777" text-anchor="end">324</text>
<text x="67.0" y="311.25" font-size="3.0" font-weight="normal" fill="#777" text-anchor="middle" transform="rotate(-90 67.0 311.25)">Counts</text>
<line x1="72.5" y1="327.5" x2="72.5" y2="329.0" stroke="#777" stroke-width="1"/>
<line x1="92.5" y1="327.5" x2="92.5" y2="329.0" stroke="#777" stroke-width="1"/>
<line x1="111.5" y1="327.5" x2="111.5" y2="329.0" stroke="#777" stroke-width="1"/>
<line x1="131.5" y1="327.5" x2="131.5" y2="329.0" stroke="#777" stroke-width="1"/>
<line x1="150.5" y1="327.5" x2="150.5" y2="329.0" stroke="#777" stroke-width="1"/>
<path d="M91.5,327.5 L92.5,322.0 L93.5,311.73 L94.3,304.2 L94.9,301.1 L95.5,304.22 L96.2,311.85 L97.0,320.26 L98.0,323.07 L99.0,323.65 L100.0,324.15 L101.0,323.88 L102.0,324.49 L103.0,323.51 L104.0,324.38 L105.0,323.03 L106.0,323.05 L107.0,322.79 L108.0,323.07 L109.25,322.72 L110.5,322.71 L111.5,325 L112.9,327.5 Z" fill="#8a8a8a" stroke="#3c3c3c" stroke-width="0.55"/>
<line x1="90.3" y1="293.5" x2="98.9" y2="293.5" stroke="#444" stroke-width="1"/>
<line x1="90.5" y1="293.5" x2="90.5" y2="314.3" stroke="#ddd" stroke-width="1"/>
<line x1="98.5" y1="293.5" x2="98.5" y2="314.3" stroke="#999" stroke-width="1"/>
<text x="94.6" y="291.3" font-size="3.36" font-weight="normal" fill="#555" text-anchor="middle">R4</text>
<text x="72.5" y="332.0" font-size="3.24" font-weight="normal" fill="#666" text-anchor="middle">0</text>
<text x="92.0" y="332.0" font-size="3.24" font-weight="normal" fill="#666" text-anchor="middle">64</text>
<text x="111.5" y="332.0" font-size="3.24" font-weight="normal" fill="#666" text-anchor="middle">128</text>
<text x="131.0" y="332.0" font-size="3.24" font-weight="normal" fill="#666" text-anchor="middle">192</text>
<text x="150.5" y="332.0" font-size="3.24" font-weight="normal" fill="#666" text-anchor="middle">256</text>
<text x="101.75" y="334.8" font-size="3.0" font-weight="normal" fill="#777" text-anchor="middle">FL2-H</text>
<line x1="68.5" y1="287.5" x2="150.6" y2="287.5" stroke="#666" stroke-width="1"/>
<line x1="168" y1="327.5" x2="246" y2="327.5" stroke="#555" stroke-width="1"/>
<line x1="168.5" y1="288" x2="168.5" y2="327.5" stroke="#888" stroke-width="1"/>
<line x1="166.2" y1="327.5" x2="167.7" y2="327.5" stroke="#888" stroke-width="1"/>
<line x1="166.2" y1="317.5" x2="167.7" y2="317.5" stroke="#888" stroke-width="1"/>
<text x="165.7" y="318.625" font-size="3.24" font-weight="normal" fill="#777" text-anchor="end">81</text>
<line x1="166.2" y1="307.5" x2="167.7" y2="307.5" stroke="#888" stroke-width="1"/>
<text x="165.7" y="308.75" font-size="3.24" font-weight="normal" fill="#777" text-anchor="end">162</text>
<line x1="166.2" y1="297.5" x2="167.7" y2="297.5" stroke="#888" stroke-width="1"/>
<text x="165.7" y="298.875" font-size="3.24" font-weight="normal" fill="#777" text-anchor="end">243</text>
<line x1="166.2" y1="288.5" x2="167.7" y2="288.5" stroke="#888" stroke-width="1"/>
<text x="165.7" y="289.0" font-size="3.24" font-weight="normal" fill="#777" text-anchor="end">324</text>
<text x="162.5" y="311.75" font-size="3.0" font-weight="normal" fill="#777" text-anchor="middle" transform="rotate(-90 162.5 311.75)">Counts</text>
<line x1="168.5" y1="327.5" x2="168.5" y2="329.0" stroke="#777" stroke-width="1"/>
<line x1="187.5" y1="327.5" x2="187.5" y2="329.0" stroke="#777" stroke-width="1"/>
<line x1="207.5" y1="327.5" x2="207.5" y2="329.0" stroke="#777" stroke-width="1"/>
<line x1="226.5" y1="327.5" x2="226.5" y2="329.0" stroke="#777" stroke-width="1"/>
<line x1="246.5" y1="327.5" x2="246.5" y2="329.0" stroke="#777" stroke-width="1"/>
<path d="M187,327.5 L188.0,322.0 L189.0,311.28 L189.7,303.05 L190.1,301.56 L190.6,303.99 L191.3,312.54 L192.2,321.27 L193.5,324.22 L194.75,324.72 L196.0,324.5 L197.0,324.96 L198.0,325.57 L199.0,325.86 L200.0,325.94 L201.0,325.41 L202.0,325.37 L203.0,324.97 L204.0,324.36 L205.0,324.54 L206.5,325.5 L208,327.5 Z" fill="#8a8a8a" stroke="#3c3c3c" stroke-width="0.55"/>
<line x1="185.3" y1="293.5" x2="194.4" y2="293.5" stroke="#444" stroke-width="1"/>
<line x1="185.5" y1="293.8" x2="185.5" y2="314.3" stroke="#999" stroke-width="1"/>
<line x1="194.5" y1="293.8" x2="194.5" y2="314.3" stroke="#999" stroke-width="1"/>
<text x="189.85000000000002" y="291.6" font-size="3.36" font-weight="normal" fill="#555" text-anchor="middle">R4</text>
<text x="168.0" y="332.0" font-size="3.24" font-weight="normal" fill="#666" text-anchor="middle">0</text>
<text x="187.5" y="332.0" font-size="3.24" font-weight="normal" fill="#666" text-anchor="middle">64</text>
<text x="207.0" y="332.0" font-size="3.24" font-weight="normal" fill="#666" text-anchor="middle">128</text>
<text x="226.5" y="332.0" font-size="3.24" font-weight="normal" fill="#666" text-anchor="middle">192</text>
<text x="246.0" y="332.0" font-size="3.24" font-weight="normal" fill="#666" text-anchor="middle">256</text>
<text x="197.25" y="334.8" font-size="3.0" font-weight="normal" fill="#777" text-anchor="middle">FL2-H</text>
<line x1="262.8" y1="327.5" x2="339.8" y2="327.5" stroke="#555" stroke-width="1"/>
<line x1="262.5" y1="287.8" x2="262.5" y2="327.5" stroke="#888" stroke-width="1"/>
<line x1="261.0" y1="327.5" x2="262.5" y2="327.5" stroke="#888" stroke-width="1"/>
<line x1="261.0" y1="317.5" x2="262.5" y2="317.5" stroke="#888" stroke-width="1"/>
<text x="260.5" y="318.575" font-size="3.24" font-weight="normal" fill="#777" text-anchor="end">81</text>
<line x1="261.0" y1="307.5" x2="262.5" y2="307.5" stroke="#888" stroke-width="1"/>
<text x="260.5" y="308.65" font-size="3.24" font-weight="normal" fill="#777" text-anchor="end">162</text>
<line x1="261.0" y1="297.5" x2="262.5" y2="297.5" stroke="#888" stroke-width="1"/>
<text x="260.5" y="298.725" font-size="3.24" font-weight="normal" fill="#777" text-anchor="end">243</text>
<line x1="261.0" y1="287.5" x2="262.5" y2="287.5" stroke="#888" stroke-width="1"/>
<text x="260.5" y="288.8" font-size="3.24" font-weight="normal" fill="#777" text-anchor="end">324</text>
<text x="257.3" y="311.65" font-size="3.0" font-weight="normal" fill="#777" text-anchor="middle" transform="rotate(-90 257.3 311.65)">Counts</text>
<line x1="262.5" y1="327.5" x2="262.5" y2="329.0" stroke="#777" stroke-width="1"/>
<line x1="282.5" y1="327.5" x2="282.5" y2="329.0" stroke="#777" stroke-width="1"/>
<line x1="301.5" y1="327.5" x2="301.5" y2="329.0" stroke="#777" stroke-width="1"/>
<line x1="320.5" y1="327.5" x2="320.5" y2="329.0" stroke="#777" stroke-width="1"/>
<line x1="339.5" y1="327.5" x2="339.5" y2="329.0" stroke="#777" stroke-width="1"/>
<path d="M280.1,327.5 L282.0,321.5 L283.5,310.1 L284.3,303.23 L284.9,301.0 L285.6,304.81 L286.8,313.64 L288.5,316.6 L290.2,318.55 L291.6,319.73 L293.0,320.38 L294.0,319.87 L295.0,320.33 L296.0,319.62 L297.4,320.05 L298.8,319.25 L300.5,320.1 L301.3,321.75 L302.5,325.5 L303.7,327.5 Z" fill="#8a8a8a" stroke="#3c3c3c" stroke-width="0.55"/>
<line x1="280.4" y1="293.5" x2="289.2" y2="293.5" stroke="#444" stroke-width="1"/>
<line x1="280.5" y1="293.7" x2="280.5" y2="314.5" stroke="#999" stroke-width="1"/>
<line x1="289.5" y1="293.7" x2="289.5" y2="314.5" stroke="#999" stroke-width="1"/>
<text x="284.79999999999995" y="291.5" font-size="3.36" font-weight="normal" fill="#555" text-anchor="middle">R4</text>
<text x="262.8" y="332.0" font-size="3.24" font-weight="normal" fill="#666" text-anchor="middle">0</text>
<text x="282.05" y="332.0" font-size="3.24" font-weight="normal" fill="#666" text-anchor="middle">64</text>
<text x="301.3" y="332.0" font-size="3.24" font-weight="normal" fill="#666" text-anchor="middle">128</text>
<text x="320.55" y="332.0" font-size="3.24" font-weight="normal" fill="#666" text-anchor="middle">192</text>
<text x="339.8" y="332.0" font-size="3.24" font-weight="normal" fill="#666" text-anchor="middle">256</text>
<text x="291.675" y="334.8" font-size="3.0" font-weight="normal" fill="#777" text-anchor="middle">FL2-H</text>
<text x="100.4" y="302.4" font-size="10.5" font-weight="bold" fill="#000" stroke="#000" stroke-width="0.3" textLength="22.6" lengthAdjust="spacingAndGlyphs">63%</text>
<text x="195.5" y="302.2" font-size="10.5" font-weight="bold" fill="#000" stroke="#000" stroke-width="0.3" textLength="22.5" lengthAdjust="spacingAndGlyphs">74%</text>
<text x="290.3" y="302.6" font-size="10.5" font-weight="bold" fill="#000" stroke="#000" stroke-width="0.3" textLength="22.7" lengthAdjust="spacingAndGlyphs">54%</text>
<rect x="72.5" y="336.5" width="79.0" height="78.0" fill="none" stroke="#5a5a5a" stroke-width="1"/>
<line x1="101" y1="336.2" x2="101" y2="414.4" stroke="#6a6a6a" stroke-width="1.7"/>
<line x1="72.7" y1="408.3" x2="151.5" y2="408.3" stroke="#555" stroke-width="1.6"/>
<line x1="71.2" y1="414.5" x2="72.7" y2="414.5" stroke="#777" stroke-width="1"/>
<line x1="71.2" y1="398.5" x2="72.7" y2="398.5" stroke="#777" stroke-width="1"/>
<line x1="71.2" y1="383.5" x2="72.7" y2="383.5" stroke="#777" stroke-width="1"/>
<line x1="71.2" y1="367.5" x2="72.7" y2="367.5" stroke="#777" stroke-width="1"/>
<line x1="71.2" y1="351.5" x2="72.7" y2="351.5" stroke="#777" stroke-width="1"/>
<line x1="71.2" y1="336.5" x2="72.7" y2="336.5" stroke="#777" stroke-width="1"/>
<line x1="72.5" y1="414.4" x2="72.5" y2="415.9" stroke="#777" stroke-width="1"/>
<line x1="88.5" y1="414.4" x2="88.5" y2="415.9" stroke="#777" stroke-width="1"/>
<line x1="104.5" y1="414.4" x2="104.5" y2="415.9" stroke="#777" stroke-width="1"/>
<line x1="119.5" y1="414.4" x2="119.5" y2="415.9" stroke="#777" stroke-width="1"/>
<line x1="135.5" y1="414.4" x2="135.5" y2="415.9" stroke="#777" stroke-width="1"/>
<line x1="151.5" y1="414.4" x2="151.5" y2="415.9" stroke="#777" stroke-width="1"/>
<rect x="167.5" y="336.5" width="78.0" height="79.0" fill="none" stroke="#5a5a5a" stroke-width="1"/>
<line x1="195.5" y1="336.6" x2="195.5" y2="415.5" stroke="#6a6a6a" stroke-width="1.7"/>
<line x1="167.3" y1="408.8" x2="245.6" y2="408.8" stroke="#555" stroke-width="1.6"/>
<line x1="165.8" y1="415.5" x2="167.3" y2="415.5" stroke="#777" stroke-width="1"/>
<line x1="165.8" y1="399.5" x2="167.3" y2="399.5" stroke="#777" stroke-width="1"/>
<line x1="165.8" y1="383.5" x2="167.3" y2="383.5" stroke="#777" stroke-width="1"/>
<line x1="165.8" y1="368.5" x2="167.3" y2="368.5" stroke="#777" stroke-width="1"/>
<line x1="165.8" y1="352.5" x2="167.3" y2="352.5" stroke="#777" stroke-width="1"/>
<line x1="165.8" y1="336.5" x2="167.3" y2="336.5" stroke="#777" stroke-width="1"/>
<line x1="167.5" y1="415.5" x2="167.5" y2="417.0" stroke="#777" stroke-width="1"/>
<line x1="182.5" y1="415.5" x2="182.5" y2="417.0" stroke="#777" stroke-width="1"/>
<line x1="198.5" y1="415.5" x2="198.5" y2="417.0" stroke="#777" stroke-width="1"/>
<line x1="214.5" y1="415.5" x2="214.5" y2="417.0" stroke="#777" stroke-width="1"/>
<line x1="229.5" y1="415.5" x2="229.5" y2="417.0" stroke="#777" stroke-width="1"/>
<line x1="245.5" y1="415.5" x2="245.5" y2="417.0" stroke="#777" stroke-width="1"/>
<rect x="262.5" y="337.5" width="78.0" height="78.0" fill="none" stroke="#5a5a5a" stroke-width="1"/>
<line x1="290.8" y1="337.5" x2="290.8" y2="415.4" stroke="#6a6a6a" stroke-width="1.7"/>
<line x1="262.8" y1="409.2" x2="340.5" y2="409.2" stroke="#555" stroke-width="1.6"/>
<line x1="261.3" y1="415.5" x2="262.8" y2="415.5" stroke="#777" stroke-width="1"/>
<line x1="261.3" y1="399.5" x2="262.8" y2="399.5" stroke="#777" stroke-width="1"/>
<line x1="261.3" y1="384.5" x2="262.8" y2="384.5" stroke="#777" stroke-width="1"/>
<line x1="261.3" y1="368.5" x2="262.8" y2="368.5" stroke="#777" stroke-width="1"/>
<line x1="261.3" y1="353.5" x2="262.8" y2="353.5" stroke="#777" stroke-width="1"/>
<line x1="261.3" y1="337.5" x2="262.8" y2="337.5" stroke="#777" stroke-width="1"/>
<line x1="262.5" y1="415.4" x2="262.5" y2="416.9" stroke="#777" stroke-width="1"/>
<line x1="278.5" y1="415.4" x2="278.5" y2="416.9" stroke="#777" stroke-width="1"/>
<line x1="293.5" y1="415.4" x2="293.5" y2="416.9" stroke="#777" stroke-width="1"/>
<line x1="309.5" y1="415.4" x2="309.5" y2="416.9" stroke="#777" stroke-width="1"/>
<line x1="324.5" y1="415.4" x2="324.5" y2="416.9" stroke="#777" stroke-width="1"/>
<line x1="340.5" y1="415.4" x2="340.5" y2="416.9" stroke="#777" stroke-width="1"/>
<text x="69.5" y="339.2" font-size="3.1" font-weight="normal" fill="#777" text-anchor="end">10</text>
<text x="70.5" y="337.8" font-size="2.2" font-weight="normal" fill="#777" text-anchor="end">4</text>
<text x="69.5" y="358.15" font-size="3.1" font-weight="normal" fill="#777" text-anchor="end">10</text>
<text x="70.5" y="356.75" font-size="2.2" font-weight="normal" fill="#777" text-anchor="end">3</text>
<text x="69.5" y="377.1" font-size="3.1" font-weight="normal" fill="#777" text-anchor="end">10</text>
<text x="70.5" y="375.70000000000005" font-size="2.2" font-weight="normal" fill="#777" text-anchor="end">2</text>
<text x="69.5" y="396.05" font-size="3.1" font-weight="normal" fill="#777" text-anchor="end">10</text>
<text x="70.5" y="394.65000000000003" font-size="2.2" font-weight="normal" fill="#777" text-anchor="end">1</text>
<text x="69.5" y="415.0" font-size="3.1" font-weight="normal" fill="#777" text-anchor="end">10</text>
<text x="70.5" y="413.6" font-size="2.2" font-weight="normal" fill="#777" text-anchor="end">0</text>
<text x="72.7" y="419.5" font-size="3.1" font-weight="normal" fill="#777" text-anchor="middle">0</text>
<text x="92.4" y="419.5" font-size="3.1" font-weight="normal" fill="#777" text-anchor="middle">32</text>
<text x="112.1" y="419.5" font-size="3.1" font-weight="normal" fill="#777" text-anchor="middle">64</text>
<text x="131.8" y="419.5" font-size="3.1" font-weight="normal" fill="#777" text-anchor="middle">96</text>
<text x="151.5" y="419.5" font-size="3.1" font-weight="normal" fill="#777" text-anchor="middle">128</text>
<text x="96.34" y="422.5" font-size="3.0" font-weight="normal" fill="#777" text-anchor="middle">FL2-A</text>
<text x="64.7" y="372.1" font-size="3.0" font-weight="normal" fill="#777" text-anchor="middle" transform="rotate(-90 64.7 372.1)">FL4-H</text>
<text x="75.7" y="339.7" font-size="3.12" font-weight="normal" fill="#555">R9</text>
<text x="126.25" y="339.7" font-size="3.12" font-weight="normal" fill="#555" text-anchor="middle">R8</text>
<text x="76.7" y="412" font-size="2.88" font-weight="normal" fill="#555">R10</text>
<text x="126.25" y="412" font-size="2.88" font-weight="normal" fill="#555" text-anchor="middle">R11</text>
<text x="164.10000000000002" y="339.6" font-size="3.1" font-weight="normal" fill="#777" text-anchor="end">10</text>
<text x="165.10000000000002" y="338.20000000000005" font-size="2.2" font-weight="normal" fill="#777" text-anchor="end">4</text>
<text x="164.10000000000002" y="358.6" font-size="3.1" font-weight="normal" fill="#777" text-anchor="end">10</text>
<text x="165.10000000000002" y="357.20000000000005" font-size="2.2" font-weight="normal" fill="#777" text-anchor="end">3</text>
<text x="164.10000000000002" y="377.6" font-size="3.1" font-weight="normal" fill="#777" text-anchor="end">10</text>
<text x="165.10000000000002" y="376.20000000000005" font-size="2.2" font-weight="normal" fill="#777" text-anchor="end">2</text>
<text x="164.10000000000002" y="396.6" font-size="3.1" font-weight="normal" fill="#777" text-anchor="end">10</text>
<text x="165.10000000000002" y="395.20000000000005" font-size="2.2" font-weight="normal" fill="#777" text-anchor="end">1</text>
<text x="164.10000000000002" y="415.6" font-size="3.1" font-weight="normal" fill="#777" text-anchor="end">10</text>
<text x="165.10000000000002" y="414.20000000000005" font-size="2.2" font-weight="normal" fill="#777" text-anchor="end">0</text>
<text x="167.3" y="420.1" font-size="3.1" font-weight="normal" fill="#777" text-anchor="middle">0</text>
<text x="186.875" y="420.1" font-size="3.1" font-weight="normal" fill="#777" text-anchor="middle">32</text>
<text x="206.45" y="420.1" font-size="3.1" font-weight="normal" fill="#777" text-anchor="middle">64</text>
<text x="226.025" y="420.1" font-size="3.1" font-weight="normal" fill="#777" text-anchor="middle">96</text>
<text x="245.6" y="420.1" font-size="3.1" font-weight="normal" fill="#777" text-anchor="middle">128</text>
<text x="190.79000000000002" y="423.1" font-size="3.0" font-weight="normal" fill="#777" text-anchor="middle">FL2-A</text>
<text x="159.3" y="372.6" font-size="3.0" font-weight="normal" fill="#777" text-anchor="middle" transform="rotate(-90 159.3 372.6)">FL4-H</text>
<text x="170.3" y="340.1" font-size="3.12" font-weight="normal" fill="#555">R9</text>
<text x="220.55" y="340.1" font-size="3.12" font-weight="normal" fill="#555" text-anchor="middle">R8</text>
<text x="171.3" y="412.6" font-size="2.88" font-weight="normal" fill="#555">R10</text>
<text x="220.55" y="412.6" font-size="2.88" font-weight="normal" fill="#555" text-anchor="middle">R11</text>
<text x="259.6" y="340.5" font-size="3.1" font-weight="normal" fill="#777" text-anchor="end">10</text>
<text x="260.6" y="339.1" font-size="2.2" font-weight="normal" fill="#777" text-anchor="end">4</text>
<text x="259.6" y="359.375" font-size="3.1" font-weight="normal" fill="#777" text-anchor="end">10</text>
<text x="260.6" y="357.975" font-size="2.2" font-weight="normal" fill="#777" text-anchor="end">3</text>
<text x="259.6" y="378.25" font-size="3.1" font-weight="normal" fill="#777" text-anchor="end">10</text>
<text x="260.6" y="376.85" font-size="2.2" font-weight="normal" fill="#777" text-anchor="end">2</text>
<text x="259.6" y="397.125" font-size="3.1" font-weight="normal" fill="#777" text-anchor="end">10</text>
<text x="260.6" y="395.725" font-size="2.2" font-weight="normal" fill="#777" text-anchor="end">1</text>
<text x="259.6" y="416.0" font-size="3.1" font-weight="normal" fill="#777" text-anchor="end">10</text>
<text x="260.6" y="414.6" font-size="2.2" font-weight="normal" fill="#777" text-anchor="end">0</text>
<text x="262.8" y="420.5" font-size="3.1" font-weight="normal" fill="#777" text-anchor="middle">0</text>
<text x="282.225" y="420.5" font-size="3.1" font-weight="normal" fill="#777" text-anchor="middle">32</text>
<text x="301.65" y="420.5" font-size="3.1" font-weight="normal" fill="#777" text-anchor="middle">64</text>
<text x="321.075" y="420.5" font-size="3.1" font-weight="normal" fill="#777" text-anchor="middle">96</text>
<text x="340.5" y="420.5" font-size="3.1" font-weight="normal" fill="#777" text-anchor="middle">128</text>
<text x="286.11" y="423.5" font-size="3.0" font-weight="normal" fill="#777" text-anchor="middle">FL2-A</text>
<text x="254.8" y="373.25" font-size="3.0" font-weight="normal" fill="#777" text-anchor="middle" transform="rotate(-90 254.8 373.25)">FL4-H</text>
<text x="265.8" y="341.0" font-size="3.12" font-weight="normal" fill="#555">R9</text>
<text x="315.65" y="341.0" font-size="3.12" font-weight="normal" fill="#555" text-anchor="middle">R8</text>
<text x="266.8" y="413" font-size="2.88" font-weight="normal" fill="#555">R10</text>
<text x="315.65" y="413" font-size="2.88" font-weight="normal" fill="#555" text-anchor="middle">R11</text>
<path d="M93,381h1v1h-1zM96,381h1v1h-1zM91,382h1v1h-1zM91,383h1v1h-1zM94,383h1v1h-1zM97,383h1v1h-1zM92,384h1v1h-1zM96,384h1v1h-1zM98,384h1v1h-1zM92,385h1v1h-1zM95,385h2v1h-2zM98,385h1v1h-1zM93,386h2v1h-2zM96,386h1v1h-1zM93,387h1v1h-1zM95,387h1v1h-1zM97,387h1v1h-1zM91,388h4v1h-4zM96,388h2v1h-2zM91,389h2v1h-2zM94,389h2v1h-2zM97,389h2v1h-2zM91,390h3v1h-3zM95,390h4v1h-4zM91,391h1v1h-1zM93,391h6v1h-6zM91,392h8v1h-8zM91,393h8v1h-8zM91,394h7v1h-7zM91,395h8v1h-8zM91,396h7v1h-7zM91,397h8v1h-8zM91,398h8v1h-8zM91,399h8v1h-8zM91,400h8v1h-8zM91,401h2v1h-2zM94,401h5v1h-5zM91,402h8v1h-8zM91,403h8v1h-8zM91,404h2v1h-2zM94,404h5v1h-5zM91,405h8v1h-8zM91,406h8v1h-8zM92,407h5v1h-5zM98,407h1v1h-1zM92,408h7v1h-7zM93,409h6v1h-6zM92,410h7v1h-7z" fill="#111"/>
<path d="M96.4,366.3h1.0v1.0h-1.0zM95.7,363.1h1.0v1.0h-1.0zM98.2,364.8h1.0v1.0h-1.0zM92.5,372.1h1.0v1.0h-1.0zM93.4,366.6h1.0v1.0h-1.0zM93.9,377.3h1.0v1.0h-1.0zM96.1,379.6h1.0v1.0h-1.0zM92.9,374.6h1.0v1.0h-1.0zM97.7,372.0h1.0v1.0h-1.0zM96.8,366.4h1.0v1.0h-1.0z" fill="#444"/>
<path d="M188,386h1v1h-1zM191,386h1v1h-1zM188,387h2v1h-2zM190,388h1v1h-1zM188,389h1v1h-1zM188,390h1v1h-1zM188,391h3v1h-3zM192,391h1v1h-1zM188,392h1v1h-1zM190,392h1v1h-1zM191,393h2v1h-2zM188,394h5v1h-5zM187,395h1v1h-1zM191,395h2v1h-2zM187,396h6v1h-6zM187,397h4v1h-4zM192,397h1v1h-1zM186,398h7v1h-7zM186,399h7v1h-7zM186,400h4v1h-4zM191,400h2v1h-2zM186,401h1v1h-1zM188,401h5v1h-5zM186,402h7v1h-7zM186,403h7v1h-7zM186,404h1v1h-1zM188,404h5v1h-5zM186,405h7v1h-7zM186,406h7v1h-7zM186,407h2v1h-2zM189,407h4v1h-4zM186,408h6v1h-6zM186,409h7v1h-7zM187,410h6v1h-6zM186,411h7v1h-7zM187,412h6v1h-6zM187,413h2v1h-2zM190,413h3v1h-3zM187,414h6v1h-6z" fill="#111"/>
<path d="M189.2,384.0h1.0v1.0h-1.0zM190.5,388.1h1.0v1.0h-1.0zM190.7,381.6h1.0v1.0h-1.0zM189.7,390.2h1.0v1.0h-1.0zM186.3,381.5h1.0v1.0h-1.0zM189.1,386.3h1.0v1.0h-1.0z" fill="#555"/>
<path d="M285,374h1v1h-1zM281,375h1v1h-1zM284,375h2v1h-2zM288,375h1v1h-1zM281,376h1v1h-1zM288,376h1v1h-1zM282,377h1v1h-1zM285,377h1v1h-1zM288,377h1v1h-1zM281,378h2v1h-2zM286,378h1v1h-1zM288,378h1v1h-1zM282,379h1v1h-1zM285,379h3v1h-3zM283,380h1v1h-1zM285,380h4v1h-4zM281,381h3v1h-3zM286,381h1v1h-1zM288,381h1v1h-1zM280,382h2v1h-2zM285,382h1v1h-1zM280,383h1v1h-1zM282,383h1v1h-1zM284,383h2v1h-2zM281,384h8v1h-8zM280,385h5v1h-5zM286,385h3v1h-3zM280,386h4v1h-4zM285,386h2v1h-2zM288,386h1v1h-1zM280,387h9v1h-9zM281,388h8v1h-8zM280,389h9v1h-9zM280,390h6v1h-6zM287,390h2v1h-2zM280,391h9v1h-9zM280,392h5v1h-5zM286,392h3v1h-3zM281,393h8v1h-8zM281,394h8v1h-8zM280,395h3v1h-3zM285,395h4v1h-4zM280,396h6v1h-6zM287,396h2v1h-2zM280,397h9v1h-9zM280,398h1v1h-1zM282,398h7v1h-7zM280,399h9v1h-9zM280,400h9v1h-9zM280,401h9v1h-9zM280,402h9v1h-9zM280,403h9v1h-9zM280,404h9v1h-9zM280,405h4v1h-4zM285,405h4v1h-4zM280,406h9v1h-9zM280,407h9v1h-9zM280,408h1v1h-1zM282,408h7v1h-7zM280,409h9v1h-9zM282,410h7v1h-7zM281,411h8v1h-8zM281,412h7v1h-7zM282,413h7v1h-7z" fill="#111"/>
<path d="M281.4,354.7h1.0v1.0h-1.0zM283.8,352.7h1.0v1.0h-1.0zM284.3,356.7h1.0v1.0h-1.0zM283.8,363.4h1.0v1.0h-1.0zM287.0,363.8h1.0v1.0h-1.0zM282.2,364.6h1.0v1.0h-1.0zM285.5,348.6h1.0v1.0h-1.0zM285.1,363.7h1.0v1.0h-1.0zM286.6,370.1h1.0v1.0h-1.0zM284.3,362.3h1.0v1.0h-1.0zM282.2,351.7h1.0v1.0h-1.0zM284.3,361.0h1.0v1.0h-1.0zM286.3,360.6h1.0v1.0h-1.0zM284.4,359.1h1.0v1.0h-1.0zM285.5,360.1h1.0v1.0h-1.0zM285.7,359.5h1.0v1.0h-1.0zM284.2,352.9h1.0v1.0h-1.0zM285.1,349.9h1.0v1.0h-1.0zM285.3,368.5h1.0v1.0h-1.0zM284.5,356.2h1.0v1.0h-1.0zM284.7,368.3h1.0v1.0h-1.0zM286.9,353.9h1.0v1.0h-1.0zM283.1,361.1h1.0v1.0h-1.0zM285.8,359.2h1.0v1.0h-1.0zM286.0,364.9h1.0v1.0h-1.0zM284.5,368.6h1.0v1.0h-1.0zM283.0,358.5h1.0v1.0h-1.0zM287.3,371.2h1.0v1.0h-1.0zM281.9,355.6h1.0v1.0h-1.0zM288.2,364.4h1.0v1.0h-1.0z" fill="#333"/>
<line x1="22.3" y1="355.5" x2="60" y2="355.5" stroke="#777" stroke-width="1"/>
<line x1="22.3" y1="413.5" x2="60" y2="413.5" stroke="#888" stroke-width="1"/>
<line x1="27.4" y1="409.5" x2="58" y2="409.5" stroke="#777" stroke-width="1"/>
<line x1="46.5" y1="363.5" x2="46.5" y2="415" stroke="#777" stroke-width="1"/>
<path d="M52,380h1v1h-1zM52,381h1v1h-1zM54,382h1v1h-1zM43,383h2v1h-2zM47,383h1v1h-1zM54,383h1v1h-1zM45,384h1v1h-1zM49,384h2v1h-2zM57,384h1v1h-1zM40,385h1v1h-1zM45,385h1v1h-1zM55,386h2v1h-2zM54,387h1v1h-1zM40,388h1v1h-1zM43,389h1v1h-1zM48,389h4v1h-4zM54,389h1v1h-1zM40,390h1v1h-1zM42,390h1v1h-1zM45,390h1v1h-1zM47,390h1v1h-1zM52,390h2v1h-2zM56,390h1v1h-1zM43,391h1v1h-1zM45,391h1v1h-1zM49,391h1v1h-1zM51,391h2v1h-2zM55,391h1v1h-1zM57,391h1v1h-1zM41,392h1v1h-1zM43,392h6v1h-6zM50,392h1v1h-1zM53,392h1v1h-1zM56,392h1v1h-1zM40,393h3v1h-3zM44,393h1v1h-1zM46,393h1v1h-1zM48,393h3v1h-3zM52,393h1v1h-1zM54,393h3v1h-3zM40,394h12v1h-12zM53,394h1v1h-1zM55,394h2v1h-2zM40,395h5v1h-5zM46,395h3v1h-3zM50,395h3v1h-3zM54,395h3v1h-3zM40,396h1v1h-1zM43,396h14v1h-14zM40,397h13v1h-13zM54,397h4v1h-4zM40,398h1v1h-1zM42,398h16v1h-16zM40,399h9v1h-9zM50,399h2v1h-2zM53,399h1v1h-1zM55,399h3v1h-3zM40,400h1v1h-1zM42,400h16v1h-16zM40,401h8v1h-8zM50,401h8v1h-8zM40,402h13v1h-13zM54,402h4v1h-4zM40,403h18v1h-18zM40,404h18v1h-18zM41,405h1v1h-1zM43,405h3v1h-3zM47,405h11v1h-11zM40,406h18v1h-18zM41,407h4v1h-4zM46,407h3v1h-3zM50,407h8v1h-8zM41,408h1v1h-1zM43,408h15v1h-15zM41,409h1v1h-1zM43,409h15v1h-15zM43,410h7v1h-7zM52,410h1v1h-1zM54,410h2v1h-2zM42,411h4v1h-4zM49,411h1v1h-1zM51,411h1v1h-1zM53,411h4v1h-4z" fill="#111"/>
<path d="M41.5,385.4h1.0v1.0h-1.0zM47.1,385.2h1.0v1.0h-1.0zM57.7,374.4h1.0v1.0h-1.0zM58.0,378.3h1.0v1.0h-1.0zM52.0,381.4h1.0v1.0h-1.0zM47.1,387.5h1.0v1.0h-1.0zM41.2,387.4h1.0v1.0h-1.0zM40.8,371.5h1.0v1.0h-1.0zM49.3,383.9h1.0v1.0h-1.0zM39.1,379.1h1.0v1.0h-1.0zM52.4,386.7h1.0v1.0h-1.0zM40.4,381.8h1.0v1.0h-1.0zM46.1,380.2h1.0v1.0h-1.0zM39.5,365.5h1.0v1.0h-1.0z" fill="#333"/>
<text x="26.5" y="371" font-size="3.1" font-weight="normal" fill="#777" text-anchor="end">10</text>
<text x="27.6" y="369.7" font-size="2.2" font-weight="normal" fill="#777" text-anchor="end">3</text>
<text x="26.5" y="385.5" font-size="3.1" font-weight="normal" fill="#777" text-anchor="end">10</text>
<text x="27.6" y="384.2" font-size="2.2" font-weight="normal" fill="#777" text-anchor="end">2</text>
<text x="26.5" y="400.5" font-size="3.1" font-weight="normal" fill="#777" text-anchor="end">10</text>
<text x="27.6" y="399.2" font-size="2.2" font-weight="normal" fill="#777" text-anchor="end">1</text>
<text x="27.5" y="419" font-size="3.1" font-weight="normal" fill="#777" text-anchor="middle">0</text>
<text x="41.5" y="419" font-size="3.1" font-weight="normal" fill="#777" text-anchor="middle">32</text>
<text x="55.5" y="419" font-size="3.1" font-weight="normal" fill="#777" text-anchor="middle">64</text>
<path d="M37,363.6 L37,362.5 Q37,361.5 38.2,361.5 L40.4,361.5 Q41.4,361.5 41.6,359.8 Q41.8,361.5 42.8,361.5 L45,361.5 Q46.2,361.5 46.2,362.5 L46.2,363.6" fill="none" stroke="#000" stroke-width="1.5"/>
<text x="29.2" y="345.4" font-size="7" font-weight="bold" fill="#000" stroke="#000" stroke-width="0.3" textLength="39.3" lengthAdjust="spacingAndGlyphs">Gate 2n DNA</text>
<text x="29.2" y="353.8" font-size="7" font-weight="bold" fill="#000" stroke="#000" stroke-width="0.3" textLength="26" lengthAdjust="spacingAndGlyphs">content</text>
<line x1="43" y1="357" x2="81.5" y2="376.2" stroke="#000" stroke-width="1.4"/>
<path d="M85.5,378.2 L79.2,372.7 L77.4,377.4 Z" fill="#000" stroke="none" stroke-width="1"/>
<line x1="14.6" y1="342" x2="14.6" y2="428.5" stroke="#000" stroke-width="3"/>
<path d="M14.6,336.5 L10.8,344 L18.4,344 Z" fill="#000" stroke="none" stroke-width="1"/>
<line x1="13.2" y1="427" x2="340" y2="427" stroke="#000" stroke-width="3"/>
<path d="M349,427 L337,422.5 L337,431.5 Z" fill="#000" stroke="none" stroke-width="1"/>
<text x="6.7" y="384.7" font-size="8.3" font-weight="bold" fill="#000" stroke="#000" stroke-width="0.3" text-anchor="middle" textLength="38.4" lengthAdjust="spacingAndGlyphs" transform="rotate(-90 6.7 384.7)">Pyronin Y</text>
<text x="176.4" y="438.8" font-size="9" font-weight="bold" fill="#000" stroke="#000" stroke-width="0.3" textLength="61.4" lengthAdjust="spacingAndGlyphs">Hoechst 33342</text>
<line x1="398.7" y1="403.5" x2="400.7" y2="403.5" stroke="#222" stroke-width="1"/>
<line x1="400.7" y1="389.5" x2="484" y2="389.5" stroke="#4a4a4a" stroke-width="1"/>
<line x1="398.7" y1="389.5" x2="400.7" y2="389.5" stroke="#222" stroke-width="1"/>
<line x1="400.7" y1="374.5" x2="484" y2="374.5" stroke="#4a4a4a" stroke-width="1"/>
<line x1="398.7" y1="374.5" x2="400.7" y2="374.5" stroke="#222" stroke-width="1"/>
<line x1="400.7" y1="360.5" x2="484" y2="360.5" stroke="#4a4a4a" stroke-width="1"/>
<line x1="398.7" y1="360.5" x2="400.7" y2="360.5" stroke="#222" stroke-width="1"/>
<line x1="400.7" y1="345.5" x2="484" y2="345.5" stroke="#4a4a4a" stroke-width="1"/>
<line x1="398.7" y1="345.5" x2="400.7" y2="345.5" stroke="#222" stroke-width="1"/>
<line x1="400.7" y1="331.5" x2="484" y2="331.5" stroke="#4a4a4a" stroke-width="1"/>
<line x1="398.7" y1="331.5" x2="400.7" y2="331.5" stroke="#222" stroke-width="1"/>
<line x1="400.7" y1="316.5" x2="484" y2="316.5" stroke="#4a4a4a" stroke-width="1"/>
<line x1="398.7" y1="316.5" x2="400.7" y2="316.5" stroke="#222" stroke-width="1"/>
<line x1="400.7" y1="302.5" x2="484" y2="302.5" stroke="#4a4a4a" stroke-width="1"/>
<line x1="398.7" y1="302.5" x2="400.7" y2="302.5" stroke="#222" stroke-width="1"/>
<line x1="400.7" y1="287.5" x2="484" y2="287.5" stroke="#4a4a4a" stroke-width="1"/>
<line x1="398.7" y1="287.5" x2="400.7" y2="287.5" stroke="#222" stroke-width="1"/>
<line x1="400.5" y1="287.7" x2="400.5" y2="403.7" stroke="#222" stroke-width="1"/>
<line x1="400.7" y1="403.5" x2="484" y2="403.5" stroke="#222" stroke-width="1"/>
<rect x="408.2" y="396.45" width="12.100000000000023" height="7.25" fill="#808080" stroke="#000" stroke-width="0.7"/>
<rect x="436.6" y="293.5" width="11.399999999999977" height="110.2" fill="#000" stroke="#000" stroke-width="0.7"/>
<rect x="464.4" y="374.7" width="11.5" height="29.0" fill="#808080" stroke="#000" stroke-width="0.7"/>
<text x="394.2" y="406.7" font-size="8.5" font-weight="bold" fill="#000" stroke="#000" stroke-width="0.3" text-anchor="end" textLength="3.7" lengthAdjust="spacingAndGlyphs">0</text>
<text x="394.2" y="392.2" font-size="8.5" font-weight="bold" fill="#000" stroke="#000" stroke-width="0.3" text-anchor="end" textLength="7.4" lengthAdjust="spacingAndGlyphs">10</text>
<text x="394.2" y="377.7" font-size="8.5" font-weight="bold" fill="#000" stroke="#000" stroke-width="0.3" text-anchor="end" textLength="7.4" lengthAdjust="spacingAndGlyphs">20</text>
<text x="394.2" y="363.2" font-size="8.5" font-weight="bold" fill="#000" stroke="#000" stroke-width="0.3" text-anchor="end" textLength="7.4" lengthAdjust="spacingAndGlyphs">30</text>
<text x="394.2" y="348.7" font-size="8.5" font-weight="bold" fill="#000" stroke="#000" stroke-width="0.3" text-anchor="end" textLength="7.4" lengthAdjust="spacingAndGlyphs">40</text>
<text x="394.2" y="334.2" font-size="8.5" font-weight="bold" fill="#000" stroke="#000" stroke-width="0.3" text-anchor="end" textLength="7.4" lengthAdjust="spacingAndGlyphs">50</text>
<text x="394.2" y="319.7" font-size="8.5" font-weight="bold" fill="#000" stroke="#000" stroke-width="0.3" text-anchor="end" textLength="7.4" lengthAdjust="spacingAndGlyphs">60</text>
<text x="394.2" y="305.2" font-size="8.5" font-weight="bold" fill="#000" stroke="#000" stroke-width="0.3" text-anchor="end" textLength="7.4" lengthAdjust="spacingAndGlyphs">70</text>
<text x="394.2" y="290.7" font-size="8.5" font-weight="bold" fill="#000" stroke="#000" stroke-width="0.3" text-anchor="end" textLength="7.4" lengthAdjust="spacingAndGlyphs">80</text>
<line x1="428.5" y1="403.7" x2="428.5" y2="406" stroke="#222" stroke-width="1"/>
<line x1="455.5" y1="403.7" x2="455.5" y2="406" stroke="#222" stroke-width="1"/>
<line x1="484.5" y1="403.7" x2="484.5" y2="406" stroke="#222" stroke-width="1"/>
<text x="380.2" y="342.9" font-size="8.4" font-weight="bold" fill="#000" stroke="#000" stroke-width="0.3" text-anchor="middle" textLength="90.6" lengthAdjust="spacingAndGlyphs" transform="rotate(-90 380.2 342.9)">% of G0/G1 cells in G0</text>
<text x="417.5" y="413" font-size="9.3" font-weight="normal" fill="#000" text-anchor="end" textLength="39" lengthAdjust="spacingAndGlyphs" transform="rotate(-30 417.5 413)">Untreated</text>
<text x="445.5" y="413" font-size="9.3" font-weight="normal" fill="#000" text-anchor="end" textLength="65" lengthAdjust="spacingAndGlyphs" transform="rotate(-30 445.5 413)">+48hrs Estradiol</text>
<text x="473.5" y="413" font-size="9.3" font-weight="normal" fill="#000" text-anchor="end" textLength="71" lengthAdjust="spacingAndGlyphs" transform="rotate(-30 473.5 413)">+48hrs, 48hrs WD</text>
<text x="0.8" y="469" font-size="15.6" font-weight="bold" fill="#000" stroke="#000" stroke-width="0.3" textLength="10.2" lengthAdjust="spacingAndGlyphs">C</text>
<line x1="51.5" y1="473.5" x2="51.5" y2="596.8" stroke="#333" stroke-width="1"/>
<line x1="51" y1="596.5" x2="189.5" y2="596.5" stroke="#333" stroke-width="1"/>
<line x1="48.5" y1="596.5" x2="51" y2="596.5" stroke="#333" stroke-width="1"/>
<line x1="48.5" y1="572.5" x2="51" y2="572.5" stroke="#333" stroke-width="1"/>
<line x1="48.5" y1="547.5" x2="51" y2="547.5" stroke="#333" stroke-width="1"/>
<line x1="48.5" y1="523.5" x2="51" y2="523.5" stroke="#333" stroke-width="1"/>
<line x1="48.5" y1="498.5" x2="51" y2="498.5" stroke="#333" stroke-width="1"/>
<line x1="48.5" y1="473.5" x2="51" y2="473.5" stroke="#333" stroke-width="1"/>
<text x="45.4" y="599.0" font-size="6.4" font-weight="bold" fill="#111" stroke="#111" stroke-width="0.3" text-anchor="end" textLength="29.7" lengthAdjust="spacingAndGlyphs">0.00E+00</text>
<text x="45.4" y="574.4" font-size="6.4" font-weight="bold" fill="#111" stroke="#111" stroke-width="0.3" text-anchor="end" textLength="29.7" lengthAdjust="spacingAndGlyphs">5.00E+05</text>
<text x="45.4" y="549.8" font-size="6.4" font-weight="bold" fill="#111" stroke="#111" stroke-width="0.3" text-anchor="end" textLength="29.7" lengthAdjust="spacingAndGlyphs">1.00E+06</text>
<text x="45.4" y="525.2" font-size="6.4" font-weight="bold" fill="#111" stroke="#111" stroke-width="0.3" text-anchor="end" textLength="29.7" lengthAdjust="spacingAndGlyphs">1.50E+06</text>
<text x="45.4" y="500.59999999999997" font-size="6.4" font-weight="bold" fill="#111" stroke="#111" stroke-width="0.3" text-anchor="end" textLength="29.7" lengthAdjust="spacingAndGlyphs">2.00E+06</text>
<text x="45.4" y="475.99999999999994" font-size="6.4" font-weight="bold" fill="#111" stroke="#111" stroke-width="0.3" text-anchor="end" textLength="29.7" lengthAdjust="spacingAndGlyphs">2.50E+06</text>
<line x1="51.5" y1="596.8" x2="51.5" y2="599.3" stroke="#333" stroke-width="1"/>
<text x="51.0" y="611" font-size="6.5" font-weight="bold" fill="#000" stroke="#000" stroke-width="0.3" text-anchor="middle">0</text>
<line x1="96.5" y1="596.8" x2="96.5" y2="599.3" stroke="#333" stroke-width="1"/>
<text x="96.8" y="611" font-size="6.5" font-weight="bold" fill="#000" stroke="#000" stroke-width="0.3" text-anchor="middle">50</text>
<line x1="142.5" y1="596.8" x2="142.5" y2="599.3" stroke="#333" stroke-width="1"/>
<text x="142.6" y="611" font-size="6.5" font-weight="bold" fill="#000" stroke="#000" stroke-width="0.3" text-anchor="middle">100</text>
<line x1="188.5" y1="596.8" x2="188.5" y2="599.3" stroke="#333" stroke-width="1"/>
<text x="188.39999999999998" y="611" font-size="6.5" font-weight="bold" fill="#000" stroke="#000" stroke-width="0.3" text-anchor="middle">150</text>
<text x="65.2" y="627.3" font-size="9" font-weight="bold" fill="#000" stroke="#000" stroke-width="0.3" textLength="113.8" lengthAdjust="spacingAndGlyphs">Hours after ligand exposure</text>
<text x="8.7" y="541.2" font-size="9.2" font-weight="bold" fill="#000" stroke="#000" stroke-width="0.3" text-anchor="middle" textLength="66.5" lengthAdjust="spacingAndGlyphs" transform="rotate(-90 8.7 541.2)">Cell density/mL</text>
<path d="M95.0,584.0 L117.0,568.3 L138.9,483.6" fill="none" stroke="#000" stroke-width="1.5" stroke-dasharray="5,3"/>
<path d="M117.0,587.9 L138.9,584.5 L160.9,583.5" fill="none" stroke="#000" stroke-width="1.5" stroke-dasharray="1.6,3"/>
<path d="M51.0,594.3 L73.0,582.0 L95.0,542.7" fill="none" stroke="#000" stroke-width="3.4" stroke-linejoin="round"/>
<path d="M51.0,594.3 L73.0,582.0 L95.0,584.0 L117.0,587.9" fill="none" stroke="#000" stroke-width="3.4" stroke-linejoin="round"/>
<path d="M117.0,587.9 L138.9,574.7 L160.9,537.8" fill="none" stroke="#000" stroke-width="3.4" stroke-linejoin="round"/>
<rect x="47.85" y="591.1899999999999" width="6.3" height="6.3" fill="#000" stroke="none" stroke-width="1"/>
<rect x="69.83399999999999" y="578.89" width="6.3" height="6.3" fill="#000" stroke="none" stroke-width="1"/>
<rect x="91.81799999999998" y="580.858" width="6.3" height="6.3" fill="#000" stroke="none" stroke-width="1"/>
<rect x="113.80199999999999" y="584.794" width="6.3" height="6.3" fill="#000" stroke="none" stroke-width="1"/>
<rect x="135.78599999999997" y="581.35" width="6.3" height="6.3" fill="#000" stroke="none" stroke-width="1"/>
<rect x="157.76999999999998" y="580.366" width="6.3" height="6.3" fill="#000" stroke="none" stroke-width="1"/>
<path d="M94.96799999999999,539.28 L98.368,542.68 L94.96799999999999,546.0799999999999 L91.56799999999998,542.68 Z" fill="#000" stroke="none" stroke-width="1"/>
<path d="M72.984,579.04 L75.984,582.04 L72.984,585.04 L69.984,582.04 Z" fill="#000" stroke="none" stroke-width="1"/>
<path d="M116.952,564.3039999999999 L120.55199999999999,571.1439999999999 L113.352,571.1439999999999 Z" fill="#000" stroke="none" stroke-width="1"/>
<path d="M138.93599999999998,479.67999999999995 L142.53599999999997,486.5199999999999 L135.33599999999998,486.5199999999999 Z" fill="#000" stroke="none" stroke-width="1"/>
<circle cx="138.93599999999998" cy="574.66" r="3.1" fill="#000"/>
<circle cx="160.92" cy="537.76" r="3.2" fill="#000"/>
<line x1="195.2" y1="516.6" x2="210" y2="516.6" stroke="#000" stroke-width="2.8"/>
<path d="M202.5,513.8000000000001 L205.3,516.6 L202.5,519.4 L199.7,516.6 Z" fill="#000" stroke="none" stroke-width="1"/>
<text x="210.7" y="519.2" font-size="7" font-weight="bold" fill="#000" stroke="#000" stroke-width="0.3" textLength="31.7" lengthAdjust="spacingAndGlyphs">No ligand</text>
<line x1="196.5" y1="535.5" x2="208" y2="535.5" stroke="#000" stroke-width="1" stroke-dasharray="1,2"/>
<rect x="200.5" y="533.0" width="4" height="4" fill="#000" stroke="none" stroke-width="1"/>
<text x="211.7" y="537.4" font-size="7" font-weight="bold" fill="#000" stroke="#000" stroke-width="0.3" textLength="25.3" lengthAdjust="spacingAndGlyphs">+ ligand</text>
<line x1="196.5" y1="554.5" x2="208" y2="554.5" stroke="#000" stroke-width="1"/>
<path d="M202.5,550.7 L205.5,556.4 L199.5,556.4 Z" fill="#000" stroke="none" stroke-width="1"/>
<text x="211.7" y="556.4" font-size="7" font-weight="bold" fill="#000" stroke="#000" stroke-width="0.3" textLength="54.6" lengthAdjust="spacingAndGlyphs">+ ligand, washed</text>
<text x="211.7" y="564.5" font-size="7" font-weight="bold" fill="#000" stroke="#000" stroke-width="0.3" textLength="18" lengthAdjust="spacingAndGlyphs">24hrs</text>
<line x1="195.2" y1="572.6" x2="210" y2="572.6" stroke="#000" stroke-width="2.5"/>
<circle cx="202.5" cy="572.6" r="2.3" fill="#000"/>
<text x="211.7" y="575" font-size="7" font-weight="bold" fill="#000" stroke="#000" stroke-width="0.3" textLength="54.6" lengthAdjust="spacingAndGlyphs">+ ligand, washed</text>
<text x="211.7" y="583.2" font-size="7" font-weight="bold" fill="#000" stroke="#000" stroke-width="0.3" textLength="18" lengthAdjust="spacingAndGlyphs">48hrs</text>
<text x="298.8" y="469.3" font-size="15" font-weight="bold" fill="#000" stroke="#000" stroke-width="0.3" textLength="10.8" lengthAdjust="spacingAndGlyphs">D</text>
<text x="362.7" y="467.7" font-size="10" font-weight="bold" fill="#000" stroke="#000" stroke-width="0.3" textLength="27.7" lengthAdjust="spacingAndGlyphs">Wash</text>
<line x1="331.7" y1="595.5" x2="462.3" y2="595.5" stroke="#4a4a4a" stroke-width="1"/>
<line x1="329.7" y1="595.5" x2="331.7" y2="595.5" stroke="#222" stroke-width="1"/>
<text x="326.3" y="597.8" font-size="6.7" font-weight="bold" fill="#000" stroke="#000" stroke-width="0.3" text-anchor="end" textLength="3.4" lengthAdjust="spacingAndGlyphs">0</text>
<line x1="331.7" y1="584.5" x2="462.3" y2="584.5" stroke="#4a4a4a" stroke-width="1"/>
<line x1="329.7" y1="584.5" x2="331.7" y2="584.5" stroke="#222" stroke-width="1"/>
<text x="326.3" y="586.8" font-size="6.7" font-weight="bold" fill="#000" stroke="#000" stroke-width="0.3" text-anchor="end" textLength="6.9" lengthAdjust="spacingAndGlyphs">10</text>
<line x1="331.7" y1="573.5" x2="462.3" y2="573.5" stroke="#4a4a4a" stroke-width="1"/>
<line x1="329.7" y1="573.5" x2="331.7" y2="573.5" stroke="#222" stroke-width="1"/>
<text x="326.3" y="575.8" font-size="6.7" font-weight="bold" fill="#000" stroke="#000" stroke-width="0.3" text-anchor="end" textLength="6.9" lengthAdjust="spacingAndGlyphs">20</text>
<line x1="331.7" y1="562.5" x2="462.3" y2="562.5" stroke="#4a4a4a" stroke-width="1"/>
<line x1="329.7" y1="562.5" x2="331.7" y2="562.5" stroke="#222" stroke-width="1"/>
<text x="326.3" y="564.8" font-size="6.7" font-weight="bold" fill="#000" stroke="#000" stroke-width="0.3" text-anchor="end" textLength="6.9" lengthAdjust="spacingAndGlyphs">30</text>
<line x1="331.7" y1="551.5" x2="462.3" y2="551.5" stroke="#4a4a4a" stroke-width="1"/>
<line x1="329.7" y1="551.5" x2="331.7" y2="551.5" stroke="#222" stroke-width="1"/>
<text x="326.3" y="553.8" font-size="6.7" font-weight="bold" fill="#000" stroke="#000" stroke-width="0.3" text-anchor="end" textLength="6.9" lengthAdjust="spacingAndGlyphs">40</text>
<line x1="331.7" y1="540.5" x2="462.3" y2="540.5" stroke="#4a4a4a" stroke-width="1"/>
<line x1="329.7" y1="540.5" x2="331.7" y2="540.5" stroke="#222" stroke-width="1"/>
<text x="326.3" y="542.8" font-size="6.7" font-weight="bold" fill="#000" stroke="#000" stroke-width="0.3" text-anchor="end" textLength="6.9" lengthAdjust="spacingAndGlyphs">50</text>
<line x1="331.7" y1="529.5" x2="462.3" y2="529.5" stroke="#4a4a4a" stroke-width="1"/>
<line x1="329.7" y1="529.5" x2="331.7" y2="529.5" stroke="#222" stroke-width="1"/>
<text x="326.3" y="531.8" font-size="6.7" font-weight="bold" fill="#000" stroke="#000" stroke-width="0.3" text-anchor="end" textLength="6.9" lengthAdjust="spacingAndGlyphs">60</text>
<line x1="331.7" y1="518.5" x2="462.3" y2="518.5" stroke="#4a4a4a" stroke-width="1"/>
<line x1="329.7" y1="518.5" x2="331.7" y2="518.5" stroke="#222" stroke-width="1"/>
<text x="326.3" y="520.8" font-size="6.7" font-weight="bold" fill="#000" stroke="#000" stroke-width="0.3" text-anchor="end" textLength="6.9" lengthAdjust="spacingAndGlyphs">70</text>
<line x1="331.7" y1="507.5" x2="462.3" y2="507.5" stroke="#4a4a4a" stroke-width="1"/>
<line x1="329.7" y1="507.5" x2="331.7" y2="507.5" stroke="#222" stroke-width="1"/>
<text x="326.3" y="509.8" font-size="6.7" font-weight="bold" fill="#000" stroke="#000" stroke-width="0.3" text-anchor="end" textLength="6.9" lengthAdjust="spacingAndGlyphs">80</text>
<line x1="331.7" y1="496.5" x2="462.3" y2="496.5" stroke="#4a4a4a" stroke-width="1"/>
<line x1="329.7" y1="496.5" x2="331.7" y2="496.5" stroke="#222" stroke-width="1"/>
<text x="326.3" y="498.8" font-size="6.7" font-weight="bold" fill="#000" stroke="#000" stroke-width="0.3" text-anchor="end" textLength="6.9" lengthAdjust="spacingAndGlyphs">90</text>
<line x1="331.5" y1="496.0" x2="331.5" y2="595" stroke="#222" stroke-width="1"/>
<line x1="462.5" y1="496.0" x2="462.5" y2="595" stroke="#999" stroke-width="1"/>
<line x1="331.5" y1="595" x2="331.5" y2="597" stroke="#222" stroke-width="1"/>
<text x="331.7" y="608.2" font-size="6.7" font-weight="bold" fill="#000" stroke="#000" stroke-width="0.3" text-anchor="middle">0</text>
<line x1="357.5" y1="595" x2="357.5" y2="597" stroke="#222" stroke-width="1"/>
<text x="357.64" y="608.2" font-size="6.7" font-weight="bold" fill="#000" stroke="#000" stroke-width="0.3" text-anchor="middle">20</text>
<line x1="383.5" y1="595" x2="383.5" y2="597" stroke="#222" stroke-width="1"/>
<text x="383.58" y="608.2" font-size="6.7" font-weight="bold" fill="#000" stroke="#000" stroke-width="0.3" text-anchor="middle">40</text>
<line x1="409.5" y1="595" x2="409.5" y2="597" stroke="#222" stroke-width="1"/>
<text x="409.52" y="608.2" font-size="6.7" font-weight="bold" fill="#000" stroke="#000" stroke-width="0.3" text-anchor="middle">60</text>
<line x1="435.5" y1="595" x2="435.5" y2="597" stroke="#222" stroke-width="1"/>
<text x="435.46" y="608.2" font-size="6.7" font-weight="bold" fill="#000" stroke="#000" stroke-width="0.3" text-anchor="middle">80</text>
<line x1="461.5" y1="595" x2="461.5" y2="597" stroke="#222" stroke-width="1"/>
<text x="461.4" y="608.2" font-size="6.7" font-weight="bold" fill="#000" stroke="#000" stroke-width="0.3" text-anchor="middle">100</text>
<text x="342.6" y="625.2" font-size="9" font-weight="bold" fill="#000" stroke="#000" stroke-width="0.3" textLength="114.2" lengthAdjust="spacingAndGlyphs">Hours after ligand exposure</text>
<text x="306.2" y="543.6" font-size="8.2" font-weight="bold" fill="#000" stroke="#000" stroke-width="0.3" text-anchor="middle" textLength="96.8" lengthAdjust="spacingAndGlyphs" transform="rotate(-90 306.2 543.6)">% G0/G1 cells in G0 gate</text>
<line x1="360.8" y1="469.5" x2="360.8" y2="491" stroke="#000" stroke-width="1.8"/>
<path d="M360.8,500 L357.5,489.6 L364.1,489.6 Z" fill="#000" stroke="none" stroke-width="1"/>
<line x1="394.2" y1="469.5" x2="394.2" y2="491" stroke="#000" stroke-width="1.8"/>
<path d="M394.2,500 L390.9,489.6 L397.5,489.6 Z" fill="#000" stroke="none" stroke-width="1"/>
<path d="M331.7,586.2 L339.5,576.3 L362.8,521.3 L394.0,541.1" fill="none" stroke="#000" stroke-width="3.3" stroke-linejoin="round"/>
<path d="M362.8,521.3 L394.0,505.9 L456.2,567.5" fill="none" stroke="#000" stroke-width="3.3" stroke-linejoin="round"/>
<rect x="329.0" y="583.5" width="5.4" height="5.4" fill="#000" stroke="none" stroke-width="1"/>
<rect x="336.782" y="573.5999999999999" width="5.4" height="5.4" fill="#000" stroke="none" stroke-width="1"/>
<rect x="360.128" y="518.5999999999999" width="5.4" height="5.4" fill="#000" stroke="none" stroke-width="1"/>
<rect x="391.25600000000003" y="538.4" width="5.4" height="5.4" fill="#000" stroke="none" stroke-width="1"/>
<path d="M393.956,501.94 L397.55600000000004,508.78 L390.356,508.78 Z" fill="#000" stroke="none" stroke-width="1"/>
<path d="M456.212,563.1 L460.212,570.7 L452.212,570.7 Z" fill="#000" stroke="none" stroke-width="1"/>
<line x1="470" y1="534" x2="484.2" y2="534" stroke="#000" stroke-width="2.5"/>
<rect x="475.0" y="532.0" width="4" height="4" fill="#000" stroke="none" stroke-width="1"/>
<text x="485.2" y="536.5" font-size="7" font-weight="bold" fill="#000" stroke="#000" stroke-width="0.3" textLength="34.5" lengthAdjust="spacingAndGlyphs">Washed at</text>
<text x="485.2" y="545" font-size="7" font-weight="bold" fill="#000" stroke="#000" stroke-width="0.3" textLength="18" lengthAdjust="spacingAndGlyphs">24hrs</text>
<line x1="470" y1="552.7" x2="484.2" y2="552.7" stroke="#000" stroke-width="2.5"/>
<path d="M477,548.98 L480.2,555.06 L473.8,555.06 Z" fill="#000" stroke="none" stroke-width="1"/>
<text x="485.2" y="555.2" font-size="7" font-weight="bold" fill="#000" stroke="#000" stroke-width="0.3" textLength="34.5" lengthAdjust="spacingAndGlyphs">Washed at</text>
<text x="485.2" y="563.5" font-size="7" font-weight="bold" fill="#000" stroke="#000" stroke-width="0.3" textLength="18" lengthAdjust="spacingAndGlyphs">48hrs</text>
<text x="53.0" y="654" font-size="16.2" font-weight="bold" fill="#000" stroke="#000" stroke-width="0.3" textLength="10.2" lengthAdjust="spacingAndGlyphs">E</text>
<line x1="83.7" y1="671" x2="402.5" y2="671" stroke="#000" stroke-width="2.5"/>
<rect x="177.5" y="657.5" width="34.5" height="27.5" fill="#dcdcdc" stroke="#000" stroke-width="1.4"/>
<rect x="218.8" y="657.5" width="5" height="27.5" fill="#7a7a7a" stroke="#000" stroke-width="1.0"/>
<rect x="223.8" y="657.5" width="61.2" height="27.5" fill="#dcdcdc" stroke="#000" stroke-width="1.4"/>
<rect x="308" y="657.3" width="23.2" height="27.7" fill="#dcdcdc" stroke="#000" stroke-width="1.4"/>
<text x="90" y="669.3" font-size="9" font-weight="normal" fill="#000" textLength="13" lengthAdjust="spacingAndGlyphs">LTR</text>
<text x="116.3" y="669.3" font-size="9" font-weight="normal" fill="#000" textLength="14.2" lengthAdjust="spacingAndGlyphs">RRE</text>
<text x="140" y="669.3" font-size="9" font-weight="normal" fill="#000" textLength="19.5" lengthAdjust="spacingAndGlyphs">CPPT</text>
<text x="186.3" y="674.6" font-size="9.6" font-weight="normal" fill="#000" textLength="17.5" lengthAdjust="spacingAndGlyphs">SFFV</text>
<text x="228.8" y="674.6" font-size="9.6" font-weight="normal" fill="#000" textLength="50.5" lengthAdjust="spacingAndGlyphs">FLAG-GATA-2</text>
<text x="288.8" y="669.3" font-size="9" font-weight="normal" fill="#000" textLength="16.2" lengthAdjust="spacingAndGlyphs">IRES</text>
<text x="312.5" y="674.6" font-size="9.6" font-weight="normal" fill="#000" textLength="15" lengthAdjust="spacingAndGlyphs">GFP</text>
<text x="347.5" y="669.3" font-size="9" font-weight="normal" fill="#000" textLength="22.5" lengthAdjust="spacingAndGlyphs">WPRE</text>
<text x="381.3" y="669.3" font-size="9" font-weight="normal" fill="#000" textLength="13.2" lengthAdjust="spacingAndGlyphs">LTR</text>
<text x="31.4" y="715.1" font-size="16.5" font-weight="bold" fill="#000" stroke="#000" stroke-width="0.3" textLength="9.6" lengthAdjust="spacingAndGlyphs">F</text>
<line x1="76.5" y1="844.5" x2="78.5" y2="844.5" stroke="#222" stroke-width="1"/>
<text x="72.2" y="847.4" font-size="8.3" font-weight="bold" fill="#000" stroke="#000" stroke-width="0.3" text-anchor="end" textLength="3.7" lengthAdjust="spacingAndGlyphs">0</text>
<line x1="78.5" y1="829.5" x2="166.3" y2="829.5" stroke="#4a4a4a" stroke-width="1"/>
<line x1="76.5" y1="829.5" x2="78.5" y2="829.5" stroke="#222" stroke-width="1"/>
<text x="72.2" y="833.0444444444444" font-size="8.3" font-weight="bold" fill="#000" stroke="#000" stroke-width="0.3" text-anchor="end" textLength="7.5" lengthAdjust="spacingAndGlyphs">10</text>
<line x1="78.5" y1="815.5" x2="166.3" y2="815.5" stroke="#4a4a4a" stroke-width="1"/>
<line x1="76.5" y1="815.5" x2="78.5" y2="815.5" stroke="#222" stroke-width="1"/>
<text x="72.2" y="818.6888888888889" font-size="8.3" font-weight="bold" fill="#000" stroke="#000" stroke-width="0.3" text-anchor="end" textLength="7.5" lengthAdjust="spacingAndGlyphs">20</text>
<line x1="78.5" y1="800.5" x2="166.3" y2="800.5" stroke="#4a4a4a" stroke-width="1"/>
<line x1="76.5" y1="800.5" x2="78.5" y2="800.5" stroke="#222" stroke-width="1"/>
<text x="72.2" y="804.3333333333333" font-size="8.3" font-weight="bold" fill="#000" stroke="#000" stroke-width="0.3" text-anchor="end" textLength="7.5" lengthAdjust="spacingAndGlyphs">30</text>
<line x1="78.5" y1="786.5" x2="166.3" y2="786.5" stroke="#4a4a4a" stroke-width="1"/>
<line x1="76.5" y1="786.5" x2="78.5" y2="786.5" stroke="#222" stroke-width="1"/>
<text x="72.2" y="789.9777777777778" font-size="8.3" font-weight="bold" fill="#000" stroke="#000" stroke-width="0.3" text-anchor="end" textLength="7.5" lengthAdjust="spacingAndGlyphs">40</text>
<line x1="78.5" y1="772.5" x2="166.3" y2="772.5" stroke="#4a4a4a" stroke-width="1"/>
<line x1="76.5" y1="772.5" x2="78.5" y2="772.5" stroke="#222" stroke-width="1"/>
<text x="72.2" y="775.6222222222221" font-size="8.3" font-weight="bold" fill="#000" stroke="#000" stroke-width="0.3" text-anchor="end" textLength="7.5" lengthAdjust="spacingAndGlyphs">50</text>
<line x1="78.5" y1="757.5" x2="166.3" y2="757.5" stroke="#4a4a4a" stroke-width="1"/>
<line x1="76.5" y1="757.5" x2="78.5" y2="757.5" stroke="#222" stroke-width="1"/>
<text x="72.2" y="761.2666666666667" font-size="8.3" font-weight="bold" fill="#000" stroke="#000" stroke-width="0.3" text-anchor="end" textLength="7.5" lengthAdjust="spacingAndGlyphs">60</text>
<line x1="78.5" y1="743.5" x2="166.3" y2="743.5" stroke="#4a4a4a" stroke-width="1"/>
<line x1="76.5" y1="743.5" x2="78.5" y2="743.5" stroke="#222" stroke-width="1"/>
<text x="72.2" y="746.911111111111" font-size="8.3" font-weight="bold" fill="#000" stroke="#000" stroke-width="0.3" text-anchor="end" textLength="7.5" lengthAdjust="spacingAndGlyphs">70</text>
<line x1="78.5" y1="729.5" x2="166.3" y2="729.5" stroke="#4a4a4a" stroke-width="1"/>
<line x1="76.5" y1="729.5" x2="78.5" y2="729.5" stroke="#222" stroke-width="1"/>
<text x="72.2" y="732.5555555555555" font-size="8.3" font-weight="bold" fill="#000" stroke="#000" stroke-width="0.3" text-anchor="end" textLength="7.5" lengthAdjust="spacingAndGlyphs">80</text>
<line x1="78.5" y1="714.5" x2="166.3" y2="714.5" stroke="#4a4a4a" stroke-width="1"/>
<line x1="76.5" y1="714.5" x2="78.5" y2="714.5" stroke="#222" stroke-width="1"/>
<text x="72.2" y="718.1999999999999" font-size="8.3" font-weight="bold" fill="#000" stroke="#000" stroke-width="0.3" text-anchor="end" textLength="7.5" lengthAdjust="spacingAndGlyphs">90</text>
<line x1="78.5" y1="714.8" x2="78.5" y2="844" stroke="#222" stroke-width="1"/>
<line x1="78.5" y1="844.5" x2="165.2" y2="844.5" stroke="#222" stroke-width="1"/>
<line x1="121.5" y1="844" x2="121.5" y2="846.5" stroke="#222" stroke-width="1"/>
<line x1="165.5" y1="844" x2="165.5" y2="846.5" stroke="#222" stroke-width="1"/>
<rect x="91.4" y="833.2333333333333" width="18.4" height="10.766666666666671" fill="#808080" stroke="#000" stroke-width="0.8"/>
<line x1="100.5" y1="831.5106666666667" x2="100.5" y2="833.2333333333333" stroke="#000" stroke-width="1"/>
<line x1="98.4" y1="831.5" x2="102.8" y2="831.5" stroke="#000" stroke-width="1"/>
<rect x="135.4" y="772.2222222222222" width="17.5" height="71.7777777777778" fill="#000" stroke="#000" stroke-width="0.8"/>
<line x1="144.4" y1="733.2" x2="144.4" y2="772.2222222222222" stroke="#000" stroke-width="2.1"/>
<path d="M141.8,732.2 L147.4,732.2 L146,735.5 L143.2,735.5 Z" fill="#000" stroke="#000" stroke-width="0.6"/>
<text x="85.2" y="860.2" font-size="7.5" font-weight="bold" fill="#000" stroke="#000" stroke-width="0.3" textLength="30.8" lengthAdjust="spacingAndGlyphs">VECTOR</text>
<text x="130.2" y="860.2" font-size="7.5" font-weight="bold" fill="#000" stroke="#000" stroke-width="0.3" textLength="27.6" lengthAdjust="spacingAndGlyphs">GATA-2</text>
<text x="56.6" y="778.1" font-size="8.4" font-weight="bold" fill="#000" stroke="#000" stroke-width="0.3" text-anchor="middle" textLength="89" lengthAdjust="spacingAndGlyphs" transform="rotate(-90 56.6 778.1)">% of G0/G1 cells in G0</text>
<text x="236.6" y="715.3" font-size="16.5" font-weight="bold" fill="#000" stroke="#000" stroke-width="0.3" textLength="11.6" lengthAdjust="spacingAndGlyphs">G</text>
<line x1="272.4" y1="850.5" x2="274.4" y2="850.5" stroke="#222" stroke-width="1"/>
<text x="271" y="853.5" font-size="8" font-weight="bold" fill="#000" stroke="#000" stroke-width="0.3" text-anchor="end" textLength="4.3" lengthAdjust="spacingAndGlyphs">0</text>
<line x1="274.4" y1="830.5" x2="411.5" y2="830.5" stroke="#4a4a4a" stroke-width="1"/>
<line x1="272.4" y1="830.5" x2="274.4" y2="830.5" stroke="#222" stroke-width="1"/>
<text x="271" y="832.9166666666666" font-size="8" font-weight="bold" fill="#000" stroke="#000" stroke-width="0.3" text-anchor="end" textLength="8.6" lengthAdjust="spacingAndGlyphs">20</text>
<line x1="274.4" y1="809.5" x2="411.5" y2="809.5" stroke="#4a4a4a" stroke-width="1"/>
<line x1="272.4" y1="809.5" x2="274.4" y2="809.5" stroke="#222" stroke-width="1"/>
<text x="271" y="812.3333333333334" font-size="8" font-weight="bold" fill="#000" stroke="#000" stroke-width="0.3" text-anchor="end" textLength="8.6" lengthAdjust="spacingAndGlyphs">40</text>
<line x1="274.4" y1="789.5" x2="411.5" y2="789.5" stroke="#4a4a4a" stroke-width="1"/>
<line x1="272.4" y1="789.5" x2="274.4" y2="789.5" stroke="#222" stroke-width="1"/>
<text x="271" y="791.75" font-size="8" font-weight="bold" fill="#000" stroke="#000" stroke-width="0.3" text-anchor="end" textLength="8.6" lengthAdjust="spacingAndGlyphs">60</text>
<line x1="274.4" y1="768.5" x2="411.5" y2="768.5" stroke="#4a4a4a" stroke-width="1"/>
<line x1="272.4" y1="768.5" x2="274.4" y2="768.5" stroke="#222" stroke-width="1"/>
<text x="271" y="771.1666666666666" font-size="8" font-weight="bold" fill="#000" stroke="#000" stroke-width="0.3" text-anchor="end" textLength="8.6" lengthAdjust="spacingAndGlyphs">80</text>
<line x1="274.4" y1="747.5" x2="411.5" y2="747.5" stroke="#4a4a4a" stroke-width="1"/>
<line x1="272.4" y1="747.5" x2="274.4" y2="747.5" stroke="#222" stroke-width="1"/>
<text x="271" y="750.5833333333334" font-size="8" font-weight="bold" fill="#000" stroke="#000" stroke-width="0.3" text-anchor="end" textLength="12.9" lengthAdjust="spacingAndGlyphs">100</text>
<line x1="274.4" y1="727.5" x2="411.5" y2="727.5" stroke="#4a4a4a" stroke-width="1"/>
<line x1="272.4" y1="727.5" x2="274.4" y2="727.5" stroke="#222" stroke-width="1"/>
<text x="271" y="730.0" font-size="8" font-weight="bold" fill="#000" stroke="#000" stroke-width="0.3" text-anchor="end" textLength="12.9" lengthAdjust="spacingAndGlyphs">120</text>
<line x1="274.5" y1="727.4" x2="274.5" y2="850.9" stroke="#222" stroke-width="1"/>
<line x1="274.4" y1="850.5" x2="411.5" y2="850.5" stroke="#222" stroke-width="1"/>
<line x1="274.5" y1="850.9" x2="274.5" y2="853.4" stroke="#222" stroke-width="1"/>
<text x="274.4" y="863.5" font-size="8" font-weight="bold" fill="#000" stroke="#000" stroke-width="0.3" text-anchor="middle" textLength="4.3" lengthAdjust="spacingAndGlyphs">0</text>
<line x1="308.5" y1="850.9" x2="308.5" y2="853.4" stroke="#222" stroke-width="1"/>
<text x="308.45" y="863.5" font-size="8" font-weight="bold" fill="#000" stroke="#000" stroke-width="0.3" text-anchor="middle" textLength="8.6" lengthAdjust="spacingAndGlyphs">10</text>
<line x1="342.5" y1="850.9" x2="342.5" y2="853.4" stroke="#222" stroke-width="1"/>
<text x="342.5" y="863.5" font-size="8" font-weight="bold" fill="#000" stroke="#000" stroke-width="0.3" text-anchor="middle" textLength="8.6" lengthAdjust="spacingAndGlyphs">20</text>
<line x1="376.5" y1="850.9" x2="376.5" y2="853.4" stroke="#222" stroke-width="1"/>
<text x="376.55" y="863.5" font-size="8" font-weight="bold" fill="#000" stroke="#000" stroke-width="0.3" text-anchor="middle" textLength="8.6" lengthAdjust="spacingAndGlyphs">30</text>
<line x1="410.5" y1="850.9" x2="410.5" y2="853.4" stroke="#222" stroke-width="1"/>
<text x="410.6" y="863.5" font-size="8" font-weight="bold" fill="#000" stroke="#000" stroke-width="0.3" text-anchor="middle" textLength="8.6" lengthAdjust="spacingAndGlyphs">40</text>
<text x="254.6" y="792" font-size="8.2" font-weight="bold" fill="#000" stroke="#000" stroke-width="0.3" text-anchor="middle" textLength="107.5" lengthAdjust="spacingAndGlyphs" transform="rotate(-90 254.6 792)">% GFP+ cells relative to d0</text>
<path d="M274.4,748.0 L288.0,747.0 L298.2,746.4 L311.9,745.4 L322.1,744.4 L335.7,743.4 L345.9,741.8 L359.5,740.8 L369.7,739.8 L383.4,738.7" fill="none" stroke="#8a8a8a" stroke-width="2"/>
<path d="M274.4,748.0 L288.0,744.4 L298.2,744.9 L311.9,742.8 L322.1,743.4 L335.7,741.8 L345.9,739.8 L369.7,740.3 L383.4,738.7 L393.6,736.7" fill="none" stroke="#a0a0a0" stroke-width="1" stroke-dasharray="2,2"/>
<rect x="272.0" y="745.5833333333334" width="4.8" height="4.8" fill="#8f8f8f" stroke="none" stroke-width="1"/>
<rect x="285.62" y="741.98125" width="4.8" height="4.8" fill="#8f8f8f" stroke="none" stroke-width="1"/>
<rect x="295.83500000000004" y="742.4958333333333" width="4.8" height="4.8" fill="#8f8f8f" stroke="none" stroke-width="1"/>
<rect x="309.45500000000004" y="740.4375" width="4.8" height="4.8" fill="#8f8f8f" stroke="none" stroke-width="1"/>
<rect x="319.67" y="740.9520833333333" width="4.8" height="4.8" fill="#8f8f8f" stroke="none" stroke-width="1"/>
<rect x="333.29" y="739.4083333333333" width="4.8" height="4.8" fill="#8f8f8f" stroke="none" stroke-width="1"/>
<rect x="343.505" y="737.35" width="4.8" height="4.8" fill="#8f8f8f" stroke="none" stroke-width="1"/>
<rect x="367.34000000000003" y="737.8645833333334" width="4.8" height="4.8" fill="#8f8f8f" stroke="none" stroke-width="1"/>
<rect x="380.96000000000004" y="736.3208333333333" width="4.8" height="4.8" fill="#8f8f8f" stroke="none" stroke-width="1"/>
<rect x="391.17500000000007" y="734.2625" width="4.8" height="4.8" fill="#8f8f8f" stroke="none" stroke-width="1"/>
<path d="M288.02,744.7541666666666 L290.21999999999997,746.9541666666667 L288.02,749.1541666666667 L285.82,746.9541666666667 Z" fill="#8a8a8a" stroke="none" stroke-width="1"/>
<path d="M298.235,744.2395833333333 L300.435,746.4395833333333 L298.235,748.6395833333333 L296.035,746.4395833333333 Z" fill="#8a8a8a" stroke="none" stroke-width="1"/>
<path d="M311.855,743.2104166666666 L314.055,745.4104166666666 L311.855,747.6104166666667 L309.65500000000003,745.4104166666666 Z" fill="#8a8a8a" stroke="none" stroke-width="1"/>
<path d="M322.07,742.18125 L324.27,744.38125 L322.07,746.5812500000001 L319.87,744.38125 Z" fill="#8a8a8a" stroke="none" stroke-width="1"/>
<path d="M335.69,741.1520833333333 L337.89,743.3520833333333 L335.69,745.5520833333334 L333.49,743.3520833333333 Z" fill="#8a8a8a" stroke="none" stroke-width="1"/>
<path d="M345.905,739.6083333333332 L348.10499999999996,741.8083333333333 L345.905,744.0083333333333 L343.705,741.8083333333333 Z" fill="#8a8a8a" stroke="none" stroke-width="1"/>
<path d="M359.525,738.5791666666667 L361.72499999999997,740.7791666666667 L359.525,742.9791666666667 L357.325,740.7791666666667 Z" fill="#8a8a8a" stroke="none" stroke-width="1"/>
<path d="M369.74,737.55 L371.94,739.75 L369.74,741.95 L367.54,739.75 Z" fill="#8a8a8a" stroke="none" stroke-width="1"/>
<path d="M383.36,736.5208333333333 L385.56,738.7208333333333 L383.36,740.9208333333333 L381.16,738.7208333333333 Z" fill="#8a8a8a" stroke="none" stroke-width="1"/>
<path d="M274.4,748.0 L288.0,765.5 L298.9,797.4 L310.2,806.6 L323.1,815.4 L335.7,830.3 L345.9,832.4 L359.5,835.5 L369.7,836.5 L381.7,836.5" fill="none" stroke="#000" stroke-width="3.2" stroke-linejoin="round"/>
<path d="M274.4,748.0 L288.0,764.5 L298.9,781.9 L313.6,803.6 L327.2,822.4 L335.7,830.3 L345.9,833.0 L359.5,835.5 L369.7,837.7 L380.0,837.5 L393.6,839.6" fill="none" stroke="#000" stroke-width="3.2" stroke-linejoin="round"/>
<path d="M288.02,761.9591666666666 L291.21999999999997,768.0391666666666 L284.82,768.0391666666666 Z" fill="#000" stroke="none" stroke-width="1"/>
<path d="M298.916,793.8633333333333 L302.116,799.9433333333333 L295.716,799.9433333333333 Z" fill="#000" stroke="none" stroke-width="1"/>
<path d="M310.1525,803.1258333333333 L313.35249999999996,809.2058333333332 L306.9525,809.2058333333332 Z" fill="#000" stroke="none" stroke-width="1"/>
<path d="M323.0915,811.87375 L326.2915,817.9537499999999 L319.8915,817.9537499999999 Z" fill="#000" stroke="none" stroke-width="1"/>
<path d="M335.69,826.7966666666666 L338.89,832.8766666666666 L332.49,832.8766666666666 Z" fill="#000" stroke="none" stroke-width="1"/>
<path d="M345.905,828.855 L349.10499999999996,834.935 L342.705,834.935 Z" fill="#000" stroke="none" stroke-width="1"/>
<path d="M359.525,831.9425 L362.72499999999997,838.0224999999999 L356.325,838.0224999999999 Z" fill="#000" stroke="none" stroke-width="1"/>
<path d="M369.74,832.9716666666667 L372.94,839.0516666666666 L366.54,839.0516666666666 Z" fill="#000" stroke="none" stroke-width="1"/>
<path d="M381.6575,832.9716666666667 L384.8575,839.0516666666666 L378.45750000000004,839.0516666666666 Z" fill="#000" stroke="none" stroke-width="1"/>
<rect x="271.75" y="745.3333333333334" width="5.3" height="5.3" fill="#000" stroke="none" stroke-width="1"/>
<rect x="285.37" y="761.8000000000001" width="5.3" height="5.3" fill="#000" stroke="none" stroke-width="1"/>
<rect x="296.266" y="779.2958333333333" width="5.3" height="5.3" fill="#000" stroke="none" stroke-width="1"/>
<rect x="310.9075" y="800.9083333333333" width="5.3" height="5.3" fill="#000" stroke="none" stroke-width="1"/>
<rect x="324.52750000000003" y="819.7420833333333" width="5.3" height="5.3" fill="#000" stroke="none" stroke-width="1"/>
<rect x="333.04" y="827.6666666666666" width="5.3" height="5.3" fill="#000" stroke="none" stroke-width="1"/>
<rect x="343.255" y="830.3425" width="5.3" height="5.3" fill="#000" stroke="none" stroke-width="1"/>
<rect x="356.875" y="832.8125" width="5.3" height="5.3" fill="#000" stroke="none" stroke-width="1"/>
<rect x="367.09000000000003" y="835.0766666666667" width="5.3" height="5.3" fill="#000" stroke="none" stroke-width="1"/>
<rect x="377.30500000000006" y="834.8708333333333" width="5.3" height="5.3" fill="#000" stroke="none" stroke-width="1"/>
<rect x="390.92500000000007" y="836.9291666666667" width="5.3" height="5.3" fill="#000" stroke="none" stroke-width="1"/>
<line x1="413.8" y1="777.8" x2="427.7" y2="777.8" stroke="#8a8a8a" stroke-width="2"/>
<path d="M420.7,775.6 L422.9,777.8 L420.7,780 L418.5,777.8 Z" fill="#8a8a8a" stroke="none" stroke-width="1"/>
<text x="427.7" y="780.3" font-size="7" font-weight="bold" fill="#000" stroke="#000" stroke-width="0.3" textLength="39.7" lengthAdjust="spacingAndGlyphs">VECTOR (A)</text>
<line x1="414.5" y1="785.5" x2="427" y2="785.5" stroke="#a0a0a0" stroke-width="1" stroke-dasharray="1.5,2.5"/>
<rect x="418.9" y="784.0" width="3.6" height="3.6" fill="#8f8f8f" stroke="none" stroke-width="1"/>
<text x="430.7" y="788.3" font-size="7" font-weight="bold" fill="#000" stroke="#000" stroke-width="0.3" textLength="36.7" lengthAdjust="spacingAndGlyphs">VECTOR (B)</text>
<line x1="413.8" y1="794" x2="427.7" y2="794" stroke="#000" stroke-width="2.6"/>
<path d="M420.7,791.25 L423.2,796.0 L418.2,796.0 Z" fill="#000" stroke="none" stroke-width="1"/>
<text x="427.7" y="796.5" font-size="7" font-weight="bold" fill="#000" stroke="#000" stroke-width="0.3" textLength="36.9" lengthAdjust="spacingAndGlyphs">GATA-2 (A)</text>
<line x1="413.8" y1="801.5" x2="427.7" y2="801.5" stroke="#000" stroke-width="2.6"/>
<rect x="418.8" y="799.6" width="3.8" height="3.8" fill="#000" stroke="none" stroke-width="1"/>
<text x="427.7" y="804" font-size="7" font-weight="bold" fill="#000" stroke="#000" stroke-width="0.3" textLength="36.9" lengthAdjust="spacingAndGlyphs">GATA-2 (B)</text>
</svg>
</body></html>
